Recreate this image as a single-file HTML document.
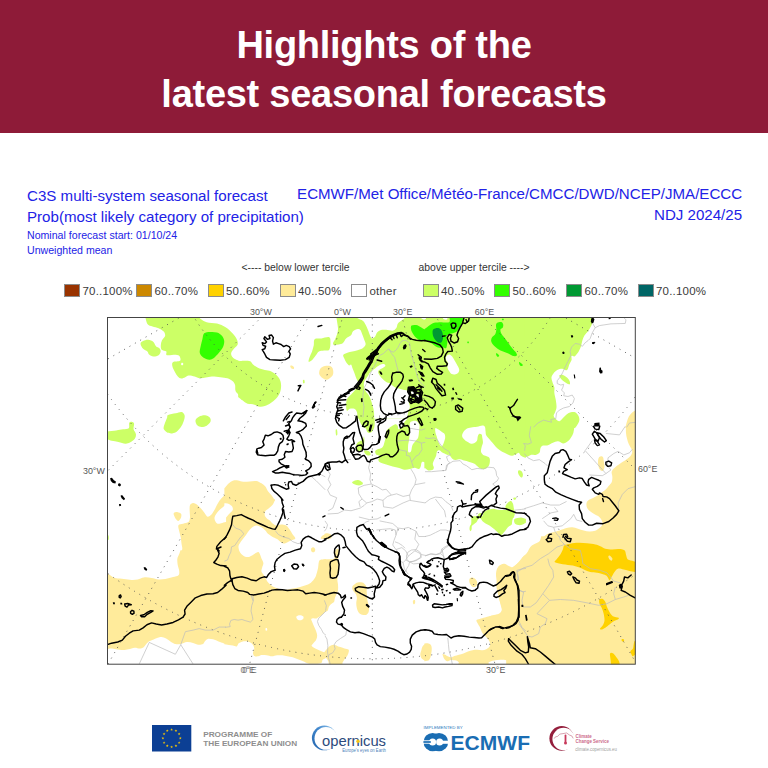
<!DOCTYPE html>
<html><head><meta charset="utf-8">
<style>
html,body{margin:0;padding:0;background:#fff;}
body{width:768px;height:768px;position:relative;overflow:hidden;font-family:"Liberation Sans",sans-serif;}
#hdr{position:absolute;left:0;top:0;width:768px;height:133.3px;background:#8e1b38;}
.ht{position:absolute;left:0;width:768px;text-align:center;color:#fff;font-weight:bold;font-size:38px;letter-spacing:-0.27px;white-space:nowrap;line-height:43px;}
.bl{position:absolute;color:#2222e6;white-space:nowrap;font-size:15.1px;line-height:18px;}
.sm{font-size:10.6px !important;line-height:12px !important;}
.lg{position:absolute;top:283.6px;width:16.2px;height:13.5px;box-sizing:border-box;border:0.8px solid #8c8c8c;margin-left:0.6px;}
.lt{position:absolute;top:284.5px;font-size:11.5px;line-height:13px;color:#3a3a3a;white-space:nowrap;letter-spacing:0.2px;}
.ax{position:absolute;font-size:8.9px;line-height:10px;color:#555;white-space:nowrap;}
svg{position:absolute;left:0;top:0;}
</style></head><body>
<div id="hdr"></div>
<div class="ht" id="h1" style="top:24.3px;">Highlights of the</div>
<div class="ht" id="h2" style="top:73.2px;">latest seasonal forecasts</div>

<div class="bl" id="t1" style="left:27px;top:187.1px;">C3S multi-system seasonal forecast</div>
<div class="bl" id="t2" style="left:27px;top:207.7px;">Prob(most likely category of precipitation)</div>
<div class="bl sm" id="t3" style="left:27px;top:228.8px;">Nominal forecast start: 01/10/24</div>
<div class="bl sm" id="t4" style="left:27px;top:243.5px;">Unweighted mean</div>
<div class="bl" id="t5" style="right:25.9px;top:184.5px;">ECMWF/Met Office/Météo-France/CMCC/DWD/NCEP/JMA/ECCC</div>
<div class="bl" id="t6" style="right:25.9px;top:205.6px;">NDJ 2024/25</div>

<div class="ax" id="l1" style="left:241.5px;top:261.9px;font-size:10.38px;line-height:12px;color:#333;">&lt;---- below lower tercile</div>
<div class="ax" id="l2" style="left:418.6px;top:261.9px;font-size:10.36px;line-height:12px;color:#333;">above upper tercile ----&gt;</div>

<div class="lg" style="left:63.5px;background:#993300;"></div><div class="lt" style="left:82.5px;">70..100%</div>
<div class="lg" style="left:135.5px;background:#cc8800;"></div><div class="lt" style="left:154.5px;">60..70%</div>
<div class="lg" style="left:207px;background:#ffd200;"></div><div class="lt" style="left:226px;">50..60%</div>
<div class="lg" style="left:279px;background:#ffeb99;"></div><div class="lt" style="left:298px;">40..50%</div>
<div class="lg" style="left:350.5px;background:#ffffff;"></div><div class="lt" style="left:369.5px;">other</div>
<div class="lg" style="left:422px;background:#ccff66;"></div><div class="lt" style="left:441px;">40..50%</div>
<div class="lg" style="left:493.5px;background:#33ff00;"></div><div class="lt" style="left:512.5px;">50..60%</div>
<div class="lg" style="left:565.5px;background:#009933;"></div><div class="lt" style="left:584.5px;">60..70%</div>
<div class="lg" style="left:637px;background:#006666;"></div><div class="lt" style="left:656px;">70..100%</div>

<svg id="map" width="768" height="768" viewBox="0 0 768 768">
<defs><clipPath id="cp"><rect x="107.5" y="317.5" width="527.8" height="346.7"/></clipPath></defs>
<g clip-path="url(#cp)" id="mapg">
<path transform="translate(107,433) scale(0.153646)" fill="#ffeb9b" d="M775.0,395.0 C775.0,395.0 754.2,414.2 745.0,425.0 C735.8,435.8 727.5,447.5 720.0,460.0 C712.5,472.5 706.7,488.3 700.0,500.0 C693.3,511.7 687.5,522.5 680.0,530.0 C672.5,537.5 662.5,546.7 655.0,545.0 C647.5,543.3 642.5,529.2 635.0,520.0 C627.5,510.8 618.3,499.2 610.0,490.0 C601.7,480.8 593.3,470.8 585.0,465.0 C576.7,459.2 567.5,454.2 560.0,455.0 C552.5,455.8 543.7,460.8 540.0,470.0 C536.3,479.2 538.0,496.7 538.0,510.0 C538.0,523.3 541.3,538.3 540.0,550.0 C538.7,561.7 537.5,573.3 530.0,580.0 C522.5,586.7 505.8,586.7 495.0,590.0 C484.2,593.3 469.2,591.7 465.0,600.0 C460.8,608.3 467.5,626.7 470.0,640.0 C472.5,653.3 477.5,666.7 480.0,680.0 C482.5,693.3 483.3,708.3 485.0,720.0 C486.7,731.7 490.0,740.8 490.0,750.0 C490.0,759.2 485.0,775.0 485.0,775.0 L775.0,775.0 L775.0,395.0 Z"/>
<path transform="translate(107,433) scale(0.153646)" fill="#ffeb9b" d="M435.0,520.0 C438.7,515.8 452.2,514.2 460.0,515.0 C467.8,515.8 478.3,519.2 482.0,525.0 C485.7,530.8 484.8,542.2 482.0,550.0 C479.2,557.8 470.7,570.3 465.0,572.0 C459.3,573.7 452.5,565.3 448.0,560.0 C443.5,554.7 440.2,546.7 438.0,540.0 C435.8,533.3 431.3,524.2 435.0,520.0 Z"/>
<path transform="translate(107,551) scale(0.153646)" fill="#ffeb9b" d="M-5.0,140.0 C-5.0,140.0 19.2,158.7 30.0,165.0 C40.8,171.3 46.7,175.2 60.0,178.0 C73.3,180.8 93.3,180.3 110.0,182.0 C126.7,183.7 145.0,187.5 160.0,188.0 C175.0,188.5 186.7,187.7 200.0,185.0 C213.3,182.3 225.0,173.7 240.0,172.0 C255.0,170.3 274.2,172.8 290.0,175.0 C305.8,177.2 320.0,183.8 335.0,185.0 C350.0,186.2 364.2,184.5 380.0,182.0 C395.8,179.5 415.8,174.0 430.0,170.0 C444.2,166.0 458.3,164.7 465.0,158.0 C471.7,151.3 470.8,141.3 470.0,130.0 C469.2,118.7 462.0,103.3 460.0,90.0 C458.0,76.7 456.3,61.7 458.0,50.0 C459.7,38.3 466.7,29.2 470.0,20.0 C473.3,10.8 478.0,-5.0 478.0,-5.0 L775.0,-5.0 L775.0,605.0 C775.0,605.0 744.2,595.0 730.0,590.0 C715.8,585.0 702.5,578.0 690.0,575.0 C677.5,572.0 664.2,569.5 655.0,572.0 C645.8,574.5 640.0,584.5 635.0,590.0 C630.0,595.5 631.7,601.7 625.0,605.0 C618.3,608.3 605.8,611.2 595.0,610.0 C584.2,608.8 572.5,601.0 560.0,598.0 C547.5,595.0 533.3,590.8 520.0,592.0 C506.7,593.2 492.5,602.8 480.0,605.0 C467.5,607.2 455.8,607.5 445.0,605.0 C434.2,602.5 425.0,595.8 415.0,590.0 C405.0,584.2 395.0,575.0 385.0,570.0 C375.0,565.0 364.2,560.8 355.0,560.0 C345.8,559.2 340.0,561.7 330.0,565.0 C320.0,568.3 305.8,575.0 295.0,580.0 C284.2,585.0 274.2,587.5 265.0,595.0 C255.8,602.5 248.3,618.3 240.0,625.0 C231.7,631.7 225.0,634.2 215.0,635.0 C205.0,635.8 192.5,629.2 180.0,630.0 C167.5,630.8 152.5,637.5 140.0,640.0 C127.5,642.5 118.3,645.0 105.0,645.0 C91.7,645.0 73.3,641.7 60.0,640.0 C46.7,638.3 35.8,635.0 25.0,635.0 C14.2,635.0 -5.0,640.0 -5.0,640.0 L-5.0,140.0 Z"/>
<path transform="translate(225,585) scale(0.130208)" fill="#ffeb9b" d="M-5.0,100.0 L775.0,100.0 L775.0,195.0 C775.0,195.0 765.8,208.3 760.0,215.0 C754.2,221.7 747.5,229.2 740.0,235.0 C732.5,240.8 721.7,246.2 715.0,250.0 C708.3,253.8 705.8,257.2 700.0,258.0 C694.2,258.8 686.3,254.3 680.0,255.0 C673.7,255.7 663.3,256.2 662.0,262.0 C660.7,267.8 668.2,280.3 672.0,290.0 C675.8,299.7 680.3,309.2 685.0,320.0 C689.7,330.8 696.2,343.3 700.0,355.0 C703.8,366.7 708.0,379.2 708.0,390.0 C708.0,400.8 704.7,410.8 700.0,420.0 C695.3,429.2 685.8,437.5 680.0,445.0 C674.2,452.5 665.0,459.2 665.0,465.0 C665.0,470.8 672.5,475.0 680.0,480.0 C687.5,485.0 699.2,490.0 710.0,495.0 C720.8,500.0 734.2,505.8 745.0,510.0 C755.8,514.2 775.0,520.0 775.0,520.0 L775.0,560.0 C775.0,560.0 755.8,568.3 750.0,575.0 C744.2,581.7 748.3,595.0 740.0,600.0 C731.7,605.0 716.7,604.7 700.0,605.0 C683.3,605.3 656.7,605.3 640.0,602.0 C623.3,598.7 613.3,590.3 600.0,585.0 C586.7,579.7 573.3,575.0 560.0,570.0 C546.7,565.0 533.3,558.7 520.0,555.0 C506.7,551.3 493.3,550.5 480.0,548.0 C466.7,545.5 453.3,541.3 440.0,540.0 C426.7,538.7 413.3,538.7 400.0,540.0 C386.7,541.3 373.3,548.0 360.0,548.0 C346.7,548.0 333.3,541.7 320.0,540.0 C306.7,538.3 290.8,536.7 280.0,538.0 C269.2,539.3 264.2,546.8 255.0,548.0 C245.8,549.2 231.7,549.7 225.0,545.0 C218.3,540.3 215.0,529.2 215.0,520.0 C215.0,510.8 225.0,500.0 225.0,490.0 C225.0,480.0 220.0,468.0 215.0,460.0 C210.0,452.0 203.3,446.7 195.0,442.0 C186.7,437.3 175.8,433.2 165.0,432.0 C154.2,430.8 140.0,432.3 130.0,435.0 C120.0,437.7 111.7,441.8 105.0,448.0 C98.3,454.2 97.5,469.2 90.0,472.0 C82.5,474.8 70.0,467.0 60.0,465.0 C50.0,463.0 40.8,461.7 30.0,460.0 C19.2,458.3 -5.0,455.0 -5.0,455.0 L-5.0,100.0 Z"/>
<path transform="translate(325,600) scale(0.130208)" fill="#ffeb9b" d="M-5.0,400.0 C-5.0,400.0 11.7,378.3 20.0,370.0 C28.3,361.7 35.8,354.2 45.0,350.0 C54.2,345.8 64.2,343.3 75.0,345.0 C85.8,346.7 97.5,355.5 110.0,360.0 C122.5,364.5 138.3,368.7 150.0,372.0 C161.7,375.3 174.7,375.3 180.0,380.0 C185.3,384.7 183.7,391.7 182.0,400.0 C180.3,408.3 175.3,420.8 170.0,430.0 C164.7,439.2 155.8,446.7 150.0,455.0 C144.2,463.3 139.2,472.5 135.0,480.0 C130.8,487.5 140.8,496.7 125.0,500.0 C109.2,503.3 56.7,505.0 40.0,500.0 C23.3,495.0 30.8,480.0 25.0,470.0 C19.2,460.0 10.0,446.7 5.0,440.0 C0.0,433.3 -5.0,430.0 -5.0,430.0 L-5.0,400.0 Z"/>
<path transform="translate(325,600) scale(0.130208)" fill="#ffeb9b" d="M775.0,335.0 C775.0,335.0 755.8,346.7 750.0,355.0 C744.2,363.3 743.0,375.0 740.0,385.0 C737.0,395.0 732.0,405.0 732.0,415.0 C732.0,425.0 735.3,437.5 740.0,445.0 C744.7,452.5 754.2,457.2 760.0,460.0 C765.8,462.8 775.0,462.0 775.0,462.0 L775.0,335.0 Z"/>
<path transform="translate(425,600) scale(0.130208)" fill="#ffeb9b" d="M570.0,-5.0 C570.0,-5.0 587.5,44.2 590.0,60.0 C592.5,75.8 590.0,81.7 585.0,90.0 C580.0,98.3 569.2,105.0 560.0,110.0 C550.8,115.0 540.8,117.5 530.0,120.0 C519.2,122.5 506.7,122.5 495.0,125.0 C483.3,127.5 472.5,131.7 460.0,135.0 C447.5,138.3 430.8,141.7 420.0,145.0 C409.2,148.3 397.5,149.2 395.0,155.0 C392.5,160.8 400.8,171.7 405.0,180.0 C409.2,188.3 415.8,196.7 420.0,205.0 C424.2,213.3 425.8,220.8 430.0,230.0 C434.2,239.2 438.3,250.8 445.0,260.0 C451.7,269.2 462.5,276.7 470.0,285.0 C477.5,293.3 485.0,301.7 490.0,310.0 C495.0,318.3 499.2,326.7 500.0,335.0 C500.8,343.3 500.0,352.8 495.0,360.0 C490.0,367.2 479.2,373.8 470.0,378.0 C460.8,382.2 451.7,384.3 440.0,385.0 C428.3,385.7 412.5,382.0 400.0,382.0 C387.5,382.0 376.7,382.8 365.0,385.0 C353.3,387.2 341.7,390.8 330.0,395.0 C318.3,399.2 306.7,405.8 295.0,410.0 C283.3,414.2 271.7,416.7 260.0,420.0 C248.3,423.3 235.0,426.7 225.0,430.0 C215.0,433.3 208.3,439.7 200.0,440.0 C191.7,440.3 183.3,435.7 175.0,432.0 C166.7,428.3 156.7,420.8 150.0,418.0 C143.3,415.2 136.7,412.2 135.0,415.0 C133.3,417.8 137.5,428.3 140.0,435.0 C142.5,441.7 145.0,449.2 150.0,455.0 C155.0,460.8 162.5,468.8 170.0,470.0 C177.5,471.2 187.5,463.3 195.0,462.0 C202.5,460.7 207.5,461.5 215.0,462.0 C222.5,462.5 232.5,462.0 240.0,465.0 C247.5,468.0 255.3,473.3 260.0,480.0 C264.7,486.7 233.0,500.8 268.0,505.0 C303.0,509.2 433.0,509.5 470.0,505.0 C507.0,500.5 480.0,484.8 490.0,478.0 C500.0,471.2 515.0,467.3 530.0,464.0 C545.0,460.7 564.2,458.3 580.0,458.0 C595.8,457.7 613.7,459.2 625.0,462.0 C636.3,464.8 642.5,467.8 648.0,475.0 C653.5,482.2 636.8,500.0 658.0,505.0 C679.2,510.0 775.0,505.0 775.0,505.0 L775.0,-5.0 L570.0,-5.0 Z"/>
<path transform="translate(425,600) scale(0.130208)" fill="#ffeb9b" d="M-5.0,335.0 C-5.0,335.0 11.7,330.3 20.0,332.0 C28.3,333.7 39.7,337.8 45.0,345.0 C50.3,352.2 51.5,364.2 52.0,375.0 C52.5,385.8 50.0,398.3 48.0,410.0 C46.0,421.7 43.8,435.8 40.0,445.0 C36.2,454.2 32.5,460.8 25.0,465.0 C17.5,469.2 -5.0,470.0 -5.0,470.0 L-5.0,335.0 Z"/>
<path transform="translate(225,500) scale(0.130208)" fill="#ffeb9b" d="M-5.0,-5.0 L385.0,-5.0 C385.0,-5.0 378.3,18.3 370.0,30.0 C361.7,41.7 345.0,55.8 335.0,65.0 C325.0,74.2 315.0,76.7 310.0,85.0 C305.0,93.3 303.3,105.8 305.0,115.0 C306.7,124.2 313.3,132.8 320.0,140.0 C326.7,147.2 337.5,151.3 345.0,158.0 C352.5,164.7 356.7,173.8 365.0,180.0 C373.3,186.2 384.2,193.7 395.0,195.0 C405.8,196.3 417.5,188.0 430.0,188.0 C442.5,188.0 459.2,188.8 470.0,195.0 C480.8,201.2 486.7,213.3 495.0,225.0 C503.3,236.7 512.5,253.3 520.0,265.0 C527.5,276.7 541.7,287.5 540.0,295.0 C538.3,302.5 520.0,305.0 510.0,310.0 C500.0,315.0 489.2,320.8 480.0,325.0 C470.8,329.2 463.3,335.0 455.0,335.0 C446.7,335.0 439.2,330.8 430.0,325.0 C420.8,319.2 411.7,307.5 400.0,300.0 C388.3,292.5 371.7,286.7 360.0,280.0 C348.3,273.3 338.3,267.5 330.0,260.0 C321.7,252.5 318.3,243.3 310.0,235.0 C301.7,226.7 290.8,216.7 280.0,210.0 C269.2,203.3 255.8,195.8 245.0,195.0 C234.2,194.2 225.0,198.3 215.0,205.0 C205.0,211.7 194.2,224.2 185.0,235.0 C175.8,245.8 169.2,257.5 160.0,270.0 C150.8,282.5 139.2,296.7 130.0,310.0 C120.8,323.3 108.7,337.5 105.0,350.0 C101.3,362.5 104.7,374.2 108.0,385.0 C111.3,395.8 117.2,406.7 125.0,415.0 C132.8,423.3 144.2,431.7 155.0,435.0 C165.8,438.3 178.3,438.3 190.0,435.0 C201.7,431.7 214.2,420.8 225.0,415.0 C235.8,409.2 247.5,399.2 255.0,400.0 C262.5,400.8 265.8,411.7 270.0,420.0 C274.2,428.3 275.8,439.2 280.0,450.0 C284.2,460.8 294.2,473.3 295.0,485.0 C295.8,496.7 287.5,509.2 285.0,520.0 C282.5,530.8 277.5,540.0 280.0,550.0 C282.5,560.0 295.0,571.7 300.0,580.0 C305.0,588.3 305.8,592.5 310.0,600.0 C314.2,607.5 318.3,616.7 325.0,625.0 C331.7,633.3 340.8,642.5 350.0,650.0 C359.2,657.5 368.3,664.2 380.0,670.0 C391.7,675.8 405.0,681.7 420.0,685.0 C435.0,688.3 453.3,690.8 470.0,690.0 C486.7,689.2 503.3,683.3 520.0,680.0 C536.7,676.7 553.3,674.2 570.0,670.0 C586.7,665.8 605.0,660.8 620.0,655.0 C635.0,649.2 648.3,644.2 660.0,635.0 C671.7,625.8 682.5,612.5 690.0,600.0 C697.5,587.5 700.8,573.3 705.0,560.0 C709.2,546.7 712.5,533.3 715.0,520.0 C717.5,506.7 717.5,490.0 720.0,480.0 C722.5,470.0 720.8,464.2 730.0,460.0 C739.2,455.8 775.0,455.0 775.0,455.0 L775.0,775.0 L-5.0,775.0 L-5.0,-5.0 Z"/>
<path transform="translate(225,500) scale(0.130208)" fill="#ffeb9b" d="M662.0,372.0 C664.7,367.3 673.0,361.5 678.0,362.0 C683.0,362.5 690.0,369.5 692.0,375.0 C694.0,380.5 693.3,390.5 690.0,395.0 C686.7,399.5 676.7,402.8 672.0,402.0 C667.3,401.2 663.7,395.0 662.0,390.0 C660.3,385.0 659.3,376.7 662.0,372.0 Z"/>
<path transform="translate(225,500) scale(0.130208)" fill="#ffeb9b" d="M735.0,290.0 C735.8,285.3 743.3,276.2 750.0,272.0 C756.7,267.8 775.0,265.0 775.0,265.0 L775.0,295.0 C775.0,295.0 751.7,300.8 745.0,300.0 C738.3,299.2 734.2,294.7 735.0,290.0 Z"/>
<path transform="translate(325,517) scale(0.130208)" fill="#ffeb9b" d="M-5.0,130.0 C-5.0,130.0 11.7,124.2 20.0,125.0 C28.3,125.8 40.0,129.2 45.0,135.0 C50.0,140.8 52.5,154.2 50.0,160.0 C47.5,165.8 39.2,168.3 30.0,170.0 C20.8,171.7 -5.0,170.0 -5.0,170.0 L-5.0,130.0 Z"/>
<path transform="translate(325,517) scale(0.130208)" fill="#ffeb9b" d="M-5.0,325.0 C-5.0,325.0 27.5,325.8 40.0,325.0 C52.5,324.2 64.2,325.0 70.0,320.0 C75.8,315.0 73.3,305.0 75.0,295.0 C76.7,285.0 77.5,268.3 80.0,260.0 C82.5,251.7 85.8,246.7 90.0,245.0 C94.2,243.3 102.5,242.5 105.0,250.0 C107.5,257.5 105.8,276.7 105.0,290.0 C104.2,303.3 100.0,315.0 100.0,330.0 C100.0,345.0 105.0,363.3 105.0,380.0 C105.0,396.7 101.7,413.3 100.0,430.0 C98.3,446.7 95.0,465.0 95.0,480.0 C95.0,495.0 99.2,506.7 100.0,520.0 C100.8,533.3 101.7,548.3 100.0,560.0 C98.3,571.7 94.2,579.2 90.0,590.0 C85.8,600.8 78.3,615.0 75.0,625.0 C71.7,635.0 75.0,642.5 70.0,650.0 C65.0,657.5 51.7,663.3 45.0,670.0 C38.3,676.7 34.2,681.7 30.0,690.0 C25.8,698.3 25.8,713.3 20.0,720.0 C14.2,726.7 -5.0,730.0 -5.0,730.0 L-5.0,325.0 Z"/>
<path transform="translate(325,517) scale(0.130208)" fill="#ffeb9b" d="M210.0,535.0 C213.3,525.8 225.0,515.5 235.0,510.0 C245.0,504.5 259.2,502.0 270.0,502.0 C280.8,502.0 292.0,504.5 300.0,510.0 C308.0,515.5 314.7,525.0 318.0,535.0 C321.3,545.0 319.3,557.5 320.0,570.0 C320.7,582.5 320.7,596.7 322.0,610.0 C323.3,623.3 325.3,636.7 328.0,650.0 C330.7,663.3 336.8,676.7 338.0,690.0 C339.2,703.3 338.8,719.7 335.0,730.0 C331.2,740.3 323.3,748.7 315.0,752.0 C306.7,755.3 294.2,752.8 285.0,750.0 C275.8,747.2 266.7,743.3 260.0,735.0 C253.3,726.7 248.3,712.5 245.0,700.0 C241.7,687.5 240.0,673.3 240.0,660.0 C240.0,646.7 245.8,631.7 245.0,620.0 C244.2,608.3 240.0,599.2 235.0,590.0 C230.0,580.8 219.2,574.2 215.0,565.0 C210.8,555.8 206.7,544.2 210.0,535.0 Z"/>
<path transform="translate(325,517) scale(0.130208)" fill="#ffeb9b" d="M675.0,645.0 C676.7,639.7 687.2,635.5 690.0,638.0 C692.8,640.5 693.7,654.7 692.0,660.0 C690.3,665.3 682.8,672.5 680.0,670.0 C677.2,667.5 673.3,650.3 675.0,645.0 Z"/>
<path transform="translate(425,517) scale(0.130208)" fill="#ffeb9b" d="M775.0,290.0 C775.0,290.0 757.5,301.7 750.0,310.0 C742.5,318.3 738.3,330.8 730.0,340.0 C721.7,349.2 710.0,357.5 700.0,365.0 C690.0,372.5 680.0,383.3 670.0,385.0 C660.0,386.7 650.0,379.2 640.0,375.0 C630.0,370.8 619.2,361.7 610.0,360.0 C600.8,358.3 593.3,360.8 585.0,365.0 C576.7,369.2 566.2,376.7 560.0,385.0 C553.8,393.3 550.5,404.2 548.0,415.0 C545.5,425.8 544.7,437.5 545.0,450.0 C545.3,462.5 549.5,476.7 550.0,490.0 C550.5,503.3 547.2,516.7 548.0,530.0 C548.8,543.3 552.2,556.7 555.0,570.0 C557.8,583.3 561.7,596.7 565.0,610.0 C568.3,623.3 571.7,636.7 575.0,650.0 C578.3,663.3 582.5,678.3 585.0,690.0 C587.5,701.7 592.5,710.8 590.0,720.0 C587.5,729.2 580.0,739.7 570.0,745.0 C560.0,750.3 541.7,749.5 530.0,752.0 C518.3,754.5 508.3,756.2 500.0,760.0 C491.7,763.8 480.0,775.0 480.0,775.0 L775.0,775.0 L775.0,290.0 Z"/>
<path transform="translate(425,517) scale(0.130208)" fill="#ffeb9b" d="M345.0,470.0 C349.2,465.0 357.5,463.3 365.0,465.0 C372.5,466.7 383.8,473.3 390.0,480.0 C396.2,486.7 401.2,496.7 402.0,505.0 C402.8,513.3 400.3,524.5 395.0,530.0 C389.7,535.5 377.5,539.7 370.0,538.0 C362.5,536.3 355.0,527.2 350.0,520.0 C345.0,512.8 340.8,503.3 340.0,495.0 C339.2,486.7 340.8,475.0 345.0,470.0 Z"/>
<path transform="translate(525,317) scale(0.143229)" fill="#ffeb9b" d="M775.0,650.0 C775.0,650.0 753.3,662.5 745.0,670.0 C736.7,677.5 730.5,685.0 725.0,695.0 C719.5,705.0 716.2,716.7 712.0,730.0 C707.8,743.3 700.0,775.0 700.0,775.0 L775.0,775.0 L775.0,650.0 Z"/>
<path transform="translate(525,427) scale(0.143229)" fill="#ffeb9b" d="M705.0,-5.0 L775.0,-5.0 L775.0,775.0 L125.0,775.0 C125.0,775.0 138.3,756.7 150.0,750.0 C161.7,743.3 180.0,739.7 195.0,735.0 C210.0,730.3 224.2,727.0 240.0,722.0 C255.8,717.0 275.0,708.7 290.0,705.0 C305.0,701.3 316.7,699.2 330.0,700.0 C343.3,700.8 356.7,706.3 370.0,710.0 C383.3,713.7 396.7,718.7 410.0,722.0 C423.3,725.3 436.7,729.5 450.0,730.0 C463.3,730.5 478.3,729.2 490.0,725.0 C501.7,720.8 511.7,712.5 520.0,705.0 C528.3,697.5 537.5,689.2 540.0,680.0 C542.5,670.8 539.2,659.2 535.0,650.0 C530.8,640.8 524.2,632.5 515.0,625.0 C505.8,617.5 490.8,611.7 480.0,605.0 C469.2,598.3 458.0,592.5 450.0,585.0 C442.0,577.5 435.3,569.2 432.0,560.0 C428.7,550.8 427.8,538.3 430.0,530.0 C432.2,521.7 437.5,515.8 445.0,510.0 C452.5,504.2 465.0,500.0 475.0,495.0 C485.0,490.0 495.8,485.8 505.0,480.0 C514.2,474.2 520.8,466.7 530.0,460.0 C539.2,453.3 550.8,448.3 560.0,440.0 C569.2,431.7 577.5,419.2 585.0,410.0 C592.5,400.8 600.8,395.0 605.0,385.0 C609.2,375.0 610.0,361.7 610.0,350.0 C610.0,338.3 603.3,325.0 605.0,315.0 C606.7,305.0 612.5,298.3 620.0,290.0 C627.5,281.7 640.0,272.5 650.0,265.0 C660.0,257.5 670.0,251.7 680.0,245.0 C690.0,238.3 700.8,231.7 710.0,225.0 C719.2,218.3 728.7,212.5 735.0,205.0 C741.3,197.5 746.3,188.3 748.0,180.0 C749.7,171.7 748.8,165.0 745.0,155.0 C741.2,145.0 730.5,132.5 725.0,120.0 C719.5,107.5 715.3,93.3 712.0,80.0 C708.7,66.7 706.2,54.2 705.0,40.0 C703.8,25.8 705.0,-5.0 705.0,-5.0 Z"/>
<path transform="translate(525,427) scale(0.143229)" fill="#ffeb9b" d="M515.0,215.0 C518.3,209.2 525.0,205.5 530.0,205.0 C535.0,204.5 541.7,206.2 545.0,212.0 C548.3,217.8 548.3,229.5 550.0,240.0 C551.7,250.5 555.8,264.2 555.0,275.0 C554.2,285.8 550.0,300.8 545.0,305.0 C540.0,309.2 530.5,305.8 525.0,300.0 C519.5,294.2 514.5,280.0 512.0,270.0 C509.5,260.0 509.5,249.2 510.0,240.0 C510.5,230.8 511.7,220.8 515.0,215.0 Z"/>
<path transform="translate(507,537) scale(0.166667)" fill="#ffeb9b" d="M205.0,-5.0 L775.0,-5.0 L775.0,775.0 L-5.0,775.0 L-5.0,175.0 C-5.0,175.0 16.7,190.0 25.0,190.0 C33.3,190.0 37.5,181.7 45.0,175.0 C52.5,168.3 61.7,159.2 70.0,150.0 C78.3,140.8 86.7,129.2 95.0,120.0 C103.3,110.8 112.5,105.0 120.0,95.0 C127.5,85.0 133.3,68.3 140.0,60.0 C146.7,51.7 150.8,50.8 160.0,45.0 C169.2,39.2 187.5,33.3 195.0,25.0 C202.5,16.7 205.0,-5.0 205.0,-5.0 Z"/>
<path transform="translate(239,317) scale(0.171875)" fill="#ffeb9b" d="M298.0,285.0 C298.8,282.2 306.3,281.8 310.0,283.0 C313.7,284.2 318.7,288.8 320.0,292.0 C321.3,295.2 320.5,300.7 318.0,302.0 C315.5,303.3 308.3,302.8 305.0,300.0 C301.7,297.2 297.2,287.8 298.0,285.0 Z"/>
<path transform="translate(239,317) scale(0.171875)" fill="#ffeb9b" d="M478.0,295.0 C483.3,290.5 491.3,286.7 500.0,285.0 C508.7,283.3 522.5,282.5 530.0,285.0 C537.5,287.5 542.0,292.5 545.0,300.0 C548.0,307.5 549.7,321.7 548.0,330.0 C546.3,338.3 541.3,344.2 535.0,350.0 C528.7,355.8 518.3,364.2 510.0,365.0 C501.7,365.8 492.0,360.0 485.0,355.0 C478.0,350.0 470.8,342.2 468.0,335.0 C465.2,327.8 466.3,318.7 468.0,312.0 C469.7,305.3 472.7,299.5 478.0,295.0 Z"/>
<path transform="translate(225,400) scale(0.130208)" fill="#ffeb9b" d="M-5.0,680.0 C-5.0,680.0 19.2,650.0 30.0,640.0 C40.8,630.0 48.3,623.7 60.0,620.0 C71.7,616.3 86.7,616.7 100.0,618.0 C113.3,619.3 125.0,626.8 140.0,628.0 C155.0,629.2 173.3,626.0 190.0,625.0 C206.7,624.0 225.0,619.5 240.0,622.0 C255.0,624.5 268.3,632.8 280.0,640.0 C291.7,647.2 301.7,655.0 310.0,665.0 C318.3,675.0 321.7,688.3 330.0,700.0 C338.3,711.7 350.8,722.5 360.0,735.0 C369.2,747.5 385.0,775.0 385.0,775.0 L-5.0,775.0 L-5.0,680.0 Z"/>
<path transform="translate(107,433) scale(0.153646)" fill="#ccff66" d="M-5.0,665.0 C-5.0,665.0 7.5,663.0 10.0,668.0 C12.5,673.0 12.5,690.5 10.0,695.0 C7.5,699.5 -5.0,695.0 -5.0,695.0 L-5.0,665.0 Z"/>
<path transform="translate(107,317) scale(0.229167)" fill="#ccff66" d="M-5.0,500.0 C-5.0,500.0 27.5,496.7 40.0,495.0 C52.5,493.3 60.8,491.7 70.0,490.0 C79.2,488.3 90.5,489.7 95.0,485.0 C99.5,480.3 94.8,466.7 97.0,462.0 C99.2,457.3 104.5,456.5 108.0,457.0 C111.5,457.5 116.7,459.5 118.0,465.0 C119.3,470.5 114.7,482.5 116.0,490.0 C117.3,497.5 125.0,503.3 126.0,510.0 C127.0,516.7 126.3,523.7 122.0,530.0 C117.7,536.3 107.0,544.2 100.0,548.0 C93.0,551.8 88.3,553.5 80.0,553.0 C71.7,552.5 60.0,547.2 50.0,545.0 C40.0,542.8 29.2,542.5 20.0,540.0 C10.8,537.5 -5.0,530.0 -5.0,530.0 L-5.0,500.0 Z"/>
<path transform="translate(425,517) scale(0.130208)" fill="#ccff66" d="M355.0,-5.0 L680.0,-5.0 C680.0,-5.0 672.5,19.2 670.0,30.0 C667.5,40.8 670.0,52.5 665.0,60.0 C660.0,67.5 646.7,69.2 640.0,75.0 C633.3,80.8 630.8,87.5 625.0,95.0 C619.2,102.5 611.7,112.5 605.0,120.0 C598.3,127.5 591.7,139.2 585.0,140.0 C578.3,140.8 571.7,130.8 565.0,125.0 C558.3,119.2 552.5,111.7 545.0,105.0 C537.5,98.3 528.3,91.7 520.0,85.0 C511.7,78.3 504.2,70.8 495.0,65.0 C485.8,59.2 474.2,55.8 465.0,50.0 C455.8,44.2 446.7,36.7 440.0,30.0 C433.3,23.3 430.0,12.5 425.0,10.0 C420.0,7.5 415.0,10.0 410.0,15.0 C405.0,20.0 400.8,33.3 395.0,40.0 C389.2,46.7 380.8,50.0 375.0,55.0 C369.2,60.0 362.8,63.3 360.0,70.0 C357.2,76.7 359.7,88.3 358.0,95.0 C356.3,101.7 352.7,110.0 350.0,110.0 C347.3,110.0 342.8,101.7 342.0,95.0 C341.2,88.3 342.8,77.5 345.0,70.0 C347.2,62.5 353.3,62.5 355.0,50.0 C356.7,37.5 355.0,-5.0 355.0,-5.0 Z"/>
<path transform="translate(425,517) scale(0.130208)" fill="#ccff66" d="M685.0,20.0 C688.3,13.0 700.0,10.5 710.0,8.0 C720.0,5.5 734.2,3.8 745.0,5.0 C755.8,6.2 775.0,15.0 775.0,15.0 L775.0,45.0 C775.0,45.0 755.0,57.2 745.0,60.0 C735.0,62.8 724.2,63.7 715.0,62.0 C705.8,60.3 695.0,57.0 690.0,50.0 C685.0,43.0 681.7,27.0 685.0,20.0 Z"/>
<path transform="translate(325,317) scale(0.130208)" fill="#ccff66" d="M85.0,-10.0 L250.0,-10.0 C250.0,-10.0 243.0,3.3 250.0,10.0 C257.0,16.7 281.7,21.7 292.0,30.0 C302.3,38.3 305.7,48.3 312.0,60.0 C318.3,71.7 324.5,86.7 330.0,100.0 C335.5,113.3 340.0,129.2 345.0,140.0 C350.0,150.8 353.3,163.3 360.0,165.0 C366.7,166.7 378.3,157.5 385.0,150.0 C391.7,142.5 392.5,128.3 400.0,120.0 C407.5,111.7 418.3,103.7 430.0,100.0 C441.7,96.3 455.0,97.2 470.0,98.0 C485.0,98.8 507.0,107.2 520.0,105.0 C533.0,102.8 541.3,94.2 548.0,85.0 C554.7,75.8 553.0,60.0 560.0,50.0 C567.0,40.0 581.7,31.7 590.0,25.0 C598.3,18.3 606.7,15.8 610.0,10.0 C613.3,4.2 610.0,-10.0 610.0,-10.0 L780.0,-10.0 L780.0,780.0 L250.0,780.0 C250.0,780.0 249.2,742.5 245.0,730.0 C240.8,717.5 234.2,709.2 225.0,705.0 C215.8,700.8 199.5,702.5 190.0,705.0 C180.5,707.5 172.7,725.8 168.0,720.0 C163.3,714.2 161.7,685.0 162.0,670.0 C162.3,655.0 165.3,640.8 170.0,630.0 C174.7,619.2 182.5,613.3 190.0,605.0 C197.5,596.7 206.7,590.0 215.0,580.0 C223.3,570.0 233.3,557.5 240.0,545.0 C246.7,532.5 254.7,516.7 255.0,505.0 C255.3,493.3 246.5,486.7 242.0,475.0 C237.5,463.3 233.0,448.3 228.0,435.0 C223.0,421.7 216.7,406.7 212.0,395.0 C207.3,383.3 204.5,368.8 200.0,365.0 C195.5,361.2 190.8,374.2 185.0,372.0 C179.2,369.8 170.8,360.3 165.0,352.0 C159.2,343.7 154.2,332.0 150.0,322.0 C145.8,312.0 136.3,299.8 140.0,292.0 C143.7,284.2 160.3,279.5 172.0,275.0 C183.7,270.5 197.0,268.3 210.0,265.0 C223.0,261.7 236.3,259.5 250.0,255.0 C263.7,250.5 281.7,245.5 292.0,238.0 C302.3,230.5 310.7,221.3 312.0,210.0 C313.3,198.7 304.5,183.3 300.0,170.0 C295.5,156.7 289.7,141.7 285.0,130.0 C280.3,118.3 277.5,106.3 272.0,100.0 C266.5,93.7 261.5,90.3 252.0,92.0 C242.5,93.7 223.7,102.0 215.0,110.0 C206.3,118.0 208.8,130.8 200.0,140.0 C191.2,149.2 172.3,155.0 162.0,165.0 C151.7,175.0 147.5,192.2 138.0,200.0 C128.5,207.8 116.3,209.5 105.0,212.0 C93.7,214.5 77.2,217.0 70.0,215.0 C62.8,213.0 60.7,207.5 62.0,200.0 C63.3,192.5 73.0,180.8 78.0,170.0 C83.0,159.2 88.3,147.5 92.0,135.0 C95.7,122.5 99.5,109.2 100.0,95.0 C100.5,80.8 97.5,67.5 95.0,50.0 C92.5,32.5 85.0,-10.0 85.0,-10.0 Z"/>
<path transform="translate(325,417) scale(0.130208)" fill="#ccff66" d="M255.0,-10.0 L380.0,-10.0 C380.0,-10.0 382.3,25.0 382.0,40.0 C381.7,55.0 380.8,68.7 378.0,80.0 C375.2,91.3 370.5,101.0 365.0,108.0 C359.5,115.0 351.7,120.8 345.0,122.0 C338.3,123.2 330.0,120.3 325.0,115.0 C320.0,109.7 319.2,95.8 315.0,90.0 C310.8,84.2 305.0,83.7 300.0,80.0 C295.0,76.3 290.0,74.7 285.0,68.0 C280.0,61.3 274.2,48.8 270.0,40.0 C265.8,31.2 262.5,23.3 260.0,15.0 C257.5,6.7 255.0,-10.0 255.0,-10.0 Z"/>
<path transform="translate(325,417) scale(0.130208)" fill="#ccff66" d="M300.0,150.0 C298.0,147.5 295.0,169.2 290.0,175.0 C285.0,180.8 277.0,180.8 270.0,185.0 C263.0,189.2 253.3,193.3 248.0,200.0 C242.7,206.7 238.5,215.8 238.0,225.0 C237.5,234.2 240.5,248.8 245.0,255.0 C249.5,261.2 258.3,262.8 265.0,262.0 C271.7,261.2 280.0,256.2 285.0,250.0 C290.0,243.8 292.2,235.0 295.0,225.0 C297.8,215.0 301.2,202.5 302.0,190.0 C302.8,177.5 302.0,152.5 300.0,150.0 Z"/>
<path transform="translate(325,417) scale(0.130208)" fill="#ccff66" d="M475.0,100.0 C480.3,92.2 489.2,85.5 500.0,78.0 C510.8,70.5 530.3,56.7 540.0,55.0 C549.7,53.3 553.8,61.3 558.0,68.0 C562.2,74.7 559.7,93.8 565.0,95.0 C570.3,96.2 582.5,84.2 590.0,75.0 C597.5,65.8 601.7,50.8 610.0,40.0 C618.3,29.2 631.7,18.3 640.0,10.0 C648.3,1.7 660.0,-10.0 660.0,-10.0 L780.0,-10.0 L780.0,355.0 C780.0,355.0 752.5,340.8 745.0,345.0 C737.5,349.2 739.2,370.8 735.0,380.0 C730.8,389.2 727.5,398.3 720.0,400.0 C712.5,401.7 701.7,390.0 690.0,390.0 C678.3,390.0 663.3,397.5 650.0,400.0 C636.7,402.5 623.3,406.3 610.0,405.0 C596.7,403.7 585.0,396.2 570.0,392.0 C555.0,387.8 536.7,384.5 520.0,380.0 C503.3,375.5 485.8,370.0 470.0,365.0 C454.2,360.0 435.0,355.8 425.0,350.0 C415.0,344.2 410.8,338.3 410.0,330.0 C409.2,321.7 422.5,306.7 420.0,300.0 C417.5,293.3 400.8,295.8 395.0,290.0 C389.2,284.2 384.2,271.7 385.0,265.0 C385.8,258.3 390.8,255.0 400.0,250.0 C409.2,245.0 430.8,243.3 440.0,235.0 C449.2,226.7 450.8,212.5 455.0,200.0 C459.2,187.5 462.8,172.5 465.0,160.0 C467.2,147.5 466.3,135.0 468.0,125.0 C469.7,115.0 469.7,107.8 475.0,100.0 Z"/>
<path transform="translate(325,417) scale(0.130208)" fill="#ccff66" d="M300.0,262.0 C301.7,257.5 312.5,256.7 320.0,258.0 C327.5,259.3 340.0,264.7 345.0,270.0 C350.0,275.3 352.5,285.8 350.0,290.0 C347.5,294.2 336.7,295.8 330.0,295.0 C323.3,294.2 315.0,290.5 310.0,285.0 C305.0,279.5 298.3,266.5 300.0,262.0 Z"/>
<path transform="translate(325,417) scale(0.130208)" fill="#ccff66" d="M82.0,100.0 C83.2,93.0 89.8,92.2 92.0,98.0 C94.2,103.8 96.2,128.0 95.0,135.0 C93.8,142.0 87.2,145.8 85.0,140.0 C82.8,134.2 80.8,107.0 82.0,100.0 Z"/>
<path transform="translate(325,417) scale(0.130208)" fill="#ccff66" d="M208.0,505.0 C206.3,499.3 221.3,491.3 230.0,488.0 C238.7,484.7 250.8,483.0 260.0,485.0 C269.2,487.0 280.0,495.0 285.0,500.0 C290.0,505.0 292.5,510.8 290.0,515.0 C287.5,519.2 278.3,523.8 270.0,525.0 C261.7,526.2 250.3,525.3 240.0,522.0 C229.7,518.7 209.7,510.7 208.0,505.0 Z"/>
<path transform="translate(425,317) scale(0.130208)" fill="#ccff66" d="M-5.0,-5.0 L775.0,-5.0 L775.0,775.0 L-5.0,775.0 L-5.0,-5.0 Z"/>
<path transform="translate(525,317) scale(0.143229)" fill="#ccff66" d="M-5.0,-5.0 L470.0,-5.0 C470.0,-5.0 472.5,26.7 470.0,40.0 C467.5,53.3 460.0,65.0 455.0,75.0 C450.0,85.0 446.7,90.8 440.0,100.0 C433.3,109.2 421.7,119.2 415.0,130.0 C408.3,140.8 403.8,153.3 400.0,165.0 C396.2,176.7 395.3,189.2 392.0,200.0 C388.7,210.8 384.5,220.8 380.0,230.0 C375.5,239.2 370.8,247.5 365.0,255.0 C359.2,262.5 351.7,272.2 345.0,275.0 C338.3,277.8 328.3,267.8 325.0,272.0 C321.7,276.2 327.5,290.3 325.0,300.0 C322.5,309.7 314.5,319.2 310.0,330.0 C305.5,340.8 302.2,358.0 298.0,365.0 C293.8,372.0 291.3,372.5 285.0,372.0 C278.7,371.5 270.0,362.3 260.0,362.0 C250.0,361.7 235.0,365.0 225.0,370.0 C215.0,375.0 206.7,383.7 200.0,392.0 C193.3,400.3 186.3,409.5 185.0,420.0 C183.7,430.5 188.7,443.3 192.0,455.0 C195.3,466.7 202.8,477.5 205.0,490.0 C207.2,502.5 203.3,515.0 205.0,530.0 C206.7,545.0 212.5,563.3 215.0,580.0 C217.5,596.7 220.8,615.8 220.0,630.0 C219.2,644.2 213.3,655.0 210.0,665.0 C206.7,675.0 199.2,682.2 200.0,690.0 C200.8,697.8 208.3,705.7 215.0,712.0 C221.7,718.3 231.7,729.2 240.0,728.0 C248.3,726.8 256.7,713.0 265.0,705.0 C273.3,697.0 280.8,686.7 290.0,680.0 C299.2,673.3 310.0,667.5 320.0,665.0 C330.0,662.5 341.7,661.7 350.0,665.0 C358.3,668.3 365.0,676.7 370.0,685.0 C375.0,693.3 380.0,705.0 380.0,715.0 C380.0,725.0 375.0,735.0 370.0,745.0 C365.0,755.0 350.0,775.0 350.0,775.0 L-5.0,775.0 L-5.0,-5.0 Z"/>
<path transform="translate(525,317) scale(0.143229)" fill="#ccff66" d="M240.0,408.0 C242.8,404.2 255.8,402.2 265.0,405.0 C274.2,407.8 287.2,417.8 295.0,425.0 C302.8,432.2 309.2,440.5 312.0,448.0 C314.8,455.5 315.7,467.7 312.0,470.0 C308.3,472.3 297.8,466.2 290.0,462.0 C282.2,457.8 272.0,450.7 265.0,445.0 C258.0,439.3 252.2,434.2 248.0,428.0 C243.8,421.8 237.2,411.8 240.0,408.0 Z"/>
<path transform="translate(425,417) scale(0.130208)" fill="#ccff66" d="M-5.0,-5.0 L775.0,-5.0 L775.0,315.0 C775.0,315.0 766.7,313.3 760.0,310.0 C753.3,306.7 741.7,300.8 735.0,295.0 C728.3,289.2 725.8,276.7 720.0,275.0 C714.2,273.3 708.3,281.2 700.0,285.0 C691.7,288.8 680.0,297.2 670.0,298.0 C660.0,298.8 650.0,293.8 640.0,290.0 C630.0,286.2 620.8,280.8 610.0,275.0 C599.2,269.2 585.8,262.5 575.0,255.0 C564.2,247.5 554.2,239.2 545.0,230.0 C535.8,220.8 528.3,210.0 520.0,200.0 C511.7,190.0 503.3,180.0 495.0,170.0 C486.7,160.0 475.0,150.0 470.0,140.0 C465.0,130.0 466.7,120.8 465.0,110.0 C463.3,99.2 464.2,82.5 460.0,75.0 C455.8,67.5 450.0,65.0 440.0,65.0 C430.0,65.0 414.2,72.5 400.0,75.0 C385.8,77.5 368.3,77.5 355.0,80.0 C341.7,82.5 330.0,84.2 320.0,90.0 C310.0,95.8 300.8,105.8 295.0,115.0 C289.2,124.2 284.2,135.8 285.0,145.0 C285.8,154.2 293.3,162.5 300.0,170.0 C306.7,177.5 315.8,184.2 325.0,190.0 C334.2,195.8 345.8,203.3 355.0,205.0 C364.2,206.7 372.5,204.2 380.0,200.0 C387.5,195.8 395.8,188.3 400.0,180.0 C404.2,171.7 402.5,158.3 405.0,150.0 C407.5,141.7 410.0,132.5 415.0,130.0 C420.0,127.5 430.8,130.0 435.0,135.0 C439.2,140.0 438.3,150.0 440.0,160.0 C441.7,170.0 445.8,183.3 445.0,195.0 C444.2,206.7 437.5,218.3 435.0,230.0 C432.5,241.7 428.3,255.0 430.0,265.0 C431.7,275.0 438.3,284.2 445.0,290.0 C451.7,295.8 461.7,295.8 470.0,300.0 C478.3,304.2 490.3,307.5 495.0,315.0 C499.7,322.5 498.8,335.0 498.0,345.0 C497.2,355.0 494.7,366.7 490.0,375.0 C485.3,383.3 478.3,390.8 470.0,395.0 C461.7,399.2 450.0,401.7 440.0,400.0 C430.0,398.3 420.0,391.7 410.0,385.0 C400.0,378.3 391.7,366.7 380.0,360.0 C368.3,353.3 353.3,349.2 340.0,345.0 C326.7,340.8 311.7,338.3 300.0,335.0 C288.3,331.7 280.8,325.8 270.0,325.0 C259.2,324.2 245.0,330.8 235.0,330.0 C225.0,329.2 217.5,325.8 210.0,320.0 C202.5,314.2 196.7,300.0 190.0,295.0 C183.3,290.0 176.7,292.5 170.0,290.0 C163.3,287.5 156.7,283.3 150.0,280.0 C143.3,276.7 136.7,274.2 130.0,270.0 C123.3,265.8 116.3,255.8 110.0,255.0 C103.7,254.2 96.2,257.5 92.0,265.0 C87.8,272.5 88.7,289.2 85.0,300.0 C81.3,310.8 74.2,320.0 70.0,330.0 C65.8,340.0 60.3,350.0 60.0,360.0 C59.7,370.0 68.8,382.0 68.0,390.0 C67.2,398.0 62.2,404.7 55.0,408.0 C47.8,411.3 33.3,412.2 25.0,410.0 C16.7,407.8 10.0,397.5 5.0,395.0 C0.0,392.5 -5.0,395.0 -5.0,395.0 L-5.0,-5.0 Z"/>
<path transform="translate(425,417) scale(0.130208)" fill="#ccff66" d="M718.0,410.0 C722.2,407.5 734.3,410.0 740.0,415.0 C745.7,420.0 751.2,431.7 752.0,440.0 C752.8,448.3 749.0,462.5 745.0,465.0 C741.0,467.5 733.0,460.8 728.0,455.0 C723.0,449.2 716.7,437.5 715.0,430.0 C713.3,422.5 713.8,412.5 718.0,410.0 Z"/>
<path transform="translate(425,417) scale(0.130208)" fill="#ccff66" d="M620.0,680.0 C623.3,671.7 633.3,660.8 640.0,655.0 C646.7,649.2 654.2,643.3 660.0,645.0 C665.8,646.7 671.3,655.8 675.0,665.0 C678.7,674.2 680.3,690.8 682.0,700.0 C683.7,709.2 692.0,717.5 685.0,720.0 C678.0,722.5 650.8,717.5 640.0,715.0 C629.2,712.5 623.3,710.8 620.0,705.0 C616.7,699.2 616.7,688.3 620.0,680.0 Z"/>
<path transform="translate(425,417) scale(0.130208)" fill="#ccff66" d="M678.0,622.0 C679.7,619.0 691.3,616.7 695.0,618.0 C698.7,619.3 701.7,627.0 700.0,630.0 C698.3,633.0 688.7,637.3 685.0,636.0 C681.3,634.7 676.3,625.0 678.0,622.0 Z"/>
<path transform="translate(425,417) scale(0.130208)" fill="#ccff66" d="M440.0,775.0 C440.0,775.0 443.3,745.0 450.0,735.0 C456.7,725.0 468.3,720.0 480.0,715.0 C491.7,710.0 506.7,705.5 520.0,705.0 C533.3,704.5 546.7,710.3 560.0,712.0 C573.3,713.7 586.7,714.5 600.0,715.0 C613.3,715.5 625.8,714.2 640.0,715.0 C654.2,715.8 676.7,715.0 685.0,720.0 C693.3,725.0 690.8,735.8 690.0,745.0 C689.2,754.2 680.0,775.0 680.0,775.0 L440.0,775.0 Z"/>
<path transform="translate(425,417) scale(0.130208)" fill="#ccff66" d="M400.0,775.0 C400.0,775.0 405.0,750.8 410.0,745.0 C415.0,739.2 425.0,735.0 430.0,740.0 C435.0,745.0 440.0,775.0 440.0,775.0 L400.0,775.0 Z"/>
<path transform="translate(525,427) scale(0.143229)" fill="#ccff66" d="M-5.0,-5.0 L345.0,-5.0 C345.0,-5.0 342.5,26.2 338.0,40.0 C333.5,53.8 325.7,67.2 318.0,78.0 C310.3,88.8 300.8,98.8 292.0,105.0 C283.2,111.2 275.3,115.8 265.0,115.0 C254.7,114.2 241.7,100.8 230.0,100.0 C218.3,99.2 206.7,105.3 195.0,110.0 C183.3,114.7 171.7,124.7 160.0,128.0 C148.3,131.3 133.7,126.7 125.0,130.0 C116.3,133.3 111.8,140.0 108.0,148.0 C104.2,156.0 107.5,170.2 102.0,178.0 C96.5,185.8 85.3,192.2 75.0,195.0 C64.7,197.8 50.0,192.8 40.0,195.0 C30.0,197.2 22.5,206.3 15.0,208.0 C7.5,209.7 -5.0,205.0 -5.0,205.0 L-5.0,-5.0 Z"/>
<path transform="translate(107,317) scale(0.171875)" fill="#ccff66" d="M222.0,-5.0 L530.0,-5.0 C530.0,-5.0 536.7,6.2 545.0,12.0 C553.3,17.8 564.2,25.7 580.0,30.0 C595.8,34.3 621.7,33.0 640.0,38.0 C658.3,43.0 675.0,50.5 690.0,60.0 C705.0,69.5 719.2,83.3 730.0,95.0 C740.8,106.7 750.0,119.2 755.0,130.0 C760.0,140.8 762.8,150.8 760.0,160.0 C757.2,169.2 744.3,176.3 738.0,185.0 C731.7,193.7 722.5,203.2 722.0,212.0 C721.5,220.8 727.0,230.8 735.0,238.0 C743.0,245.2 770.0,255.0 770.0,255.0 L770.0,455.0 C770.0,455.0 752.2,440.0 748.0,430.0 C743.8,420.0 748.0,404.7 745.0,395.0 C742.0,385.3 737.5,378.5 730.0,372.0 C722.5,365.5 711.7,359.7 700.0,356.0 C688.3,352.3 675.0,351.7 660.0,350.0 C645.0,348.3 624.2,345.7 610.0,346.0 C595.8,346.3 586.7,350.3 575.0,352.0 C563.3,353.7 550.8,357.0 540.0,356.0 C529.2,355.0 520.8,348.7 510.0,346.0 C499.2,343.3 484.2,339.3 475.0,340.0 C465.8,340.7 462.2,347.0 455.0,350.0 C447.8,353.0 439.2,358.7 432.0,358.0 C424.8,357.3 418.2,352.3 412.0,346.0 C405.8,339.7 400.3,330.2 395.0,320.0 C389.7,309.8 381.7,294.7 380.0,285.0 C378.3,275.3 377.5,267.0 385.0,262.0 C392.5,257.0 418.8,260.7 425.0,255.0 C431.2,249.3 426.2,233.8 422.0,228.0 C417.8,222.2 412.3,221.0 400.0,220.0 C387.7,219.0 357.2,225.3 348.0,222.0 C338.8,218.7 350.0,205.3 345.0,200.0 C340.0,194.7 323.3,195.8 318.0,190.0 C312.7,184.2 312.7,174.2 313.0,165.0 C313.3,155.8 315.8,144.2 320.0,135.0 C324.2,125.8 336.3,118.3 338.0,110.0 C339.7,101.7 336.3,92.5 330.0,85.0 C323.7,77.5 310.8,70.0 300.0,65.0 C289.2,60.0 275.8,59.2 265.0,55.0 C254.2,50.8 242.2,50.0 235.0,40.0 C227.8,30.0 222.0,-5.0 222.0,-5.0 Z"/>
<path transform="translate(107,317) scale(0.171875)" fill="#ccff66" d="M195.0,155.0 C195.0,147.5 202.5,143.7 210.0,140.0 C217.5,136.3 230.0,132.2 240.0,133.0 C250.0,133.8 262.5,138.8 270.0,145.0 C277.5,151.2 279.2,163.8 285.0,170.0 C290.8,176.2 300.5,177.0 305.0,182.0 C309.5,187.0 312.8,193.3 312.0,200.0 C311.2,206.7 307.0,217.0 300.0,222.0 C293.0,227.0 279.2,230.7 270.0,230.0 C260.8,229.3 250.8,223.0 245.0,218.0 C239.2,213.0 240.8,205.5 235.0,200.0 C229.2,194.5 216.7,192.5 210.0,185.0 C203.3,177.5 195.0,162.5 195.0,155.0 Z"/>
<path transform="translate(107,317) scale(0.171875)" fill="#ccff66" d="M355.0,570.0 C363.3,565.8 386.7,562.8 400.0,560.0 C413.3,557.2 426.3,550.5 435.0,553.0 C443.7,555.5 450.3,565.5 452.0,575.0 C453.7,584.5 448.7,599.2 445.0,610.0 C441.3,620.8 436.7,630.3 430.0,640.0 C423.3,649.7 413.3,661.7 405.0,668.0 C396.7,674.3 380.0,678.0 380.0,678.0 C380.0,678.0 358.0,675.8 350.0,672.0 C342.0,668.2 335.3,660.3 332.0,655.0 C328.7,649.7 328.7,647.5 330.0,640.0 C331.3,632.5 336.7,619.2 340.0,610.0 C343.3,600.8 347.5,591.7 350.0,585.0 C352.5,578.3 346.7,574.2 355.0,570.0 Z"/>
<path transform="translate(107,317) scale(0.171875)" fill="#ccff66" d="M515.0,600.0 C516.7,591.7 525.8,584.7 535.0,580.0 C544.2,575.3 559.5,571.2 570.0,572.0 C580.5,572.8 592.7,578.7 598.0,585.0 C603.3,591.3 605.0,602.2 602.0,610.0 C599.0,617.8 588.7,627.0 580.0,632.0 C571.3,637.0 559.2,640.3 550.0,640.0 C540.8,639.7 530.8,636.7 525.0,630.0 C519.2,623.3 513.3,608.3 515.0,600.0 Z"/>
<path transform="translate(239,317) scale(0.171875)" fill="#ccff66" d="M-5.0,258.0 C-5.0,258.0 18.3,255.0 30.0,255.0 C41.7,255.0 56.7,254.7 65.0,258.0 C73.3,261.3 72.5,268.8 80.0,275.0 C87.5,281.2 98.3,289.5 110.0,295.0 C121.7,300.5 137.5,304.7 150.0,308.0 C162.5,311.3 174.2,310.5 185.0,315.0 C195.8,319.5 206.2,326.7 215.0,335.0 C223.8,343.3 233.0,354.2 238.0,365.0 C243.0,375.8 245.0,387.5 245.0,400.0 C245.0,412.5 243.0,427.5 238.0,440.0 C233.0,452.5 223.8,465.0 215.0,475.0 C206.2,485.0 195.8,492.8 185.0,500.0 C174.2,507.2 160.8,514.3 150.0,518.0 C139.2,521.7 130.0,523.3 120.0,522.0 C110.0,520.7 101.7,512.8 90.0,510.0 C78.3,507.2 61.7,509.2 50.0,505.0 C38.3,500.8 29.2,491.7 20.0,485.0 C10.8,478.3 -5.0,465.0 -5.0,465.0 L-5.0,258.0 Z"/>
<path transform="translate(239,317) scale(0.171875)" fill="#ccff66" d="M440.0,130.0 C447.5,123.3 465.8,127.0 480.0,125.0 C494.2,123.0 516.3,113.8 525.0,118.0 C533.7,122.2 532.0,138.0 532.0,150.0 C532.0,162.0 531.2,182.5 525.0,190.0 C518.8,197.5 505.0,193.3 495.0,195.0 C485.0,196.7 473.3,195.0 465.0,200.0 C456.7,205.0 451.7,216.7 445.0,225.0 C438.3,233.3 431.7,244.2 425.0,250.0 C418.3,255.8 407.5,262.5 405.0,260.0 C402.5,257.5 406.7,245.0 410.0,235.0 C413.3,225.0 420.8,211.7 425.0,200.0 C429.2,188.3 432.5,176.7 435.0,165.0 C437.5,153.3 432.5,136.7 440.0,130.0 Z"/>
<path transform="translate(239,317) scale(0.171875)" fill="#ccff66" d="M372.0,368.0 C373.0,364.7 378.3,363.7 380.0,366.0 C381.7,368.3 383.0,378.7 382.0,382.0 C381.0,385.3 375.7,388.3 374.0,386.0 C372.3,383.7 371.0,371.3 372.0,368.0 Z"/>
<path transform="translate(107,433) scale(0.153646)" fill="#ffffff" d="M775.0,465.0 C775.0,465.0 755.0,480.8 745.0,490.0 C735.0,499.2 722.5,510.0 715.0,520.0 C707.5,530.0 701.7,540.8 700.0,550.0 C698.3,559.2 701.7,568.3 705.0,575.0 C708.3,581.7 712.5,588.3 720.0,590.0 C727.5,591.7 740.8,586.7 750.0,585.0 C759.2,583.3 775.0,580.0 775.0,580.0 L775.0,465.0 Z"/>
<path transform="translate(225,585) scale(0.130208)" fill="#ffffff" d="M550.0,240.0 C554.2,236.2 566.7,232.0 575.0,232.0 C583.3,232.0 595.5,235.7 600.0,240.0 C604.5,244.3 604.5,253.0 602.0,258.0 C599.5,263.0 591.7,268.3 585.0,270.0 C578.3,271.7 567.8,270.5 562.0,268.0 C556.2,265.5 552.0,259.7 550.0,255.0 C548.0,250.3 545.8,243.8 550.0,240.0 Z"/>
<path transform="translate(225,585) scale(0.130208)" fill="#ffffff" d="M312.0,332.0 C313.5,329.0 320.0,329.3 322.0,332.0 C324.0,334.7 325.5,345.0 324.0,348.0 C322.5,351.0 315.0,352.7 313.0,350.0 C311.0,347.3 310.5,335.0 312.0,332.0 Z"/>
<path transform="translate(225,500) scale(0.130208)" fill="#ffffff" d="M-5.0,25.0 C-5.0,25.0 20.0,25.8 30.0,30.0 C40.0,34.2 50.0,42.5 55.0,50.0 C60.0,57.5 61.7,67.5 60.0,75.0 C58.3,82.5 50.8,88.3 45.0,95.0 C39.2,101.7 33.3,105.8 25.0,115.0 C16.7,124.2 -5.0,150.0 -5.0,150.0 L-5.0,25.0 Z"/>
<path transform="translate(325,317) scale(0.130208)" fill="#ffffff" d="M345.0,428.0 C351.7,420.8 363.3,411.3 375.0,402.0 C386.7,392.7 401.7,378.7 415.0,372.0 C428.3,365.3 447.2,361.0 455.0,362.0 C462.8,363.0 465.8,372.0 462.0,378.0 C458.2,384.0 441.0,391.3 432.0,398.0 C423.0,404.7 410.0,409.3 408.0,418.0 C406.0,426.7 413.8,440.0 420.0,450.0 C426.2,460.0 436.7,469.7 445.0,478.0 C453.3,486.3 460.8,494.3 470.0,500.0 C479.2,505.7 490.0,506.2 500.0,512.0 C510.0,517.8 520.0,529.0 530.0,535.0 C540.0,541.0 548.3,544.2 560.0,548.0 C571.7,551.8 588.3,555.2 600.0,558.0 C611.7,560.8 622.0,559.7 630.0,565.0 C638.0,570.3 646.3,577.5 648.0,590.0 C649.7,602.5 639.3,623.3 640.0,640.0 C640.7,656.7 652.0,675.8 652.0,690.0 C652.0,704.2 643.7,710.0 640.0,725.0 C636.3,740.0 630.0,780.0 630.0,780.0 L378.0,780.0 C378.0,780.0 377.7,745.0 376.0,730.0 C374.3,715.0 371.5,704.2 368.0,690.0 C364.5,675.8 360.5,660.0 355.0,645.0 C349.5,630.0 342.2,612.5 335.0,600.0 C327.8,587.5 317.8,580.0 312.0,570.0 C306.2,560.0 302.0,551.7 300.0,540.0 C298.0,528.3 297.0,511.7 300.0,500.0 C303.0,488.3 312.2,479.2 318.0,470.0 C323.8,460.8 330.5,452.0 335.0,445.0 C339.5,438.0 338.3,435.2 345.0,428.0 Z"/>
<path transform="translate(325,317) scale(0.130208)" fill="#ffffff" d="M660.0,575.0 C661.7,570.0 675.3,567.5 680.0,570.0 C684.7,572.5 689.7,585.0 688.0,590.0 C686.3,595.0 674.7,602.5 670.0,600.0 C665.3,597.5 658.3,580.0 660.0,575.0 Z"/>
<path transform="translate(325,317) scale(0.130208)" fill="#ffffff" d="M700.0,600.0 C702.2,595.5 714.3,594.7 718.0,598.0 C721.7,601.3 724.2,615.5 722.0,620.0 C719.8,624.5 708.7,628.3 705.0,625.0 C701.3,621.7 697.8,604.5 700.0,600.0 Z"/>
<path transform="translate(325,317) scale(0.130208)" fill="#ffffff" d="M738.0,2.0 C743.0,0.0 775.0,2.0 775.0,2.0 L775.0,14.0 C775.0,14.0 767.0,20.0 762.0,20.0 C757.0,20.0 749.0,17.0 745.0,14.0 C741.0,11.0 733.0,4.0 738.0,2.0 Z"/>
<path transform="translate(325,417) scale(0.130208)" fill="#ffffff" d="M655.0,40.0 C663.0,31.7 688.3,26.7 700.0,30.0 C711.7,33.3 721.3,46.7 725.0,60.0 C728.7,73.3 723.7,93.3 722.0,110.0 C720.3,126.7 720.3,146.7 715.0,160.0 C709.7,173.3 697.5,180.0 690.0,190.0 C682.5,200.0 675.0,207.5 670.0,220.0 C665.0,232.5 665.0,257.0 660.0,265.0 C655.0,273.0 643.7,275.5 640.0,268.0 C636.3,260.5 637.2,234.7 638.0,220.0 C638.8,205.3 643.0,195.0 645.0,180.0 C647.0,165.0 648.8,146.7 650.0,130.0 C651.2,113.3 651.2,95.0 652.0,80.0 C652.8,65.0 647.0,48.3 655.0,40.0 Z"/>
<path transform="translate(425,317) scale(0.130208)" fill="#ffffff" d="M165.0,300.0 C169.2,293.8 178.3,288.0 185.0,288.0 C191.7,288.0 198.3,293.0 205.0,300.0 C211.7,307.0 218.3,319.2 225.0,330.0 C231.7,340.8 238.8,353.3 245.0,365.0 C251.2,376.7 259.8,390.0 262.0,400.0 C264.2,410.0 262.5,418.3 258.0,425.0 C253.5,431.7 243.8,437.8 235.0,440.0 C226.2,442.2 213.3,442.2 205.0,438.0 C196.7,433.8 190.5,423.8 185.0,415.0 C179.5,406.2 173.2,395.0 172.0,385.0 C170.8,375.0 180.0,365.0 178.0,355.0 C176.0,345.0 162.2,334.2 160.0,325.0 C157.8,315.8 160.8,306.2 165.0,300.0 Z"/>
<path transform="translate(425,317) scale(0.130208)" fill="#ffffff" d="M140.0,5.0 C144.2,2.8 165.3,2.5 170.0,5.0 C174.7,7.5 172.2,17.8 168.0,20.0 C163.8,22.2 149.7,20.5 145.0,18.0 C140.3,15.5 135.8,7.2 140.0,5.0 Z"/>
<path transform="translate(425,417) scale(0.130208)" fill="#ffffff" d="M80.0,85.0 C83.3,80.8 91.7,90.0 100.0,95.0 C108.3,100.0 121.7,109.2 130.0,115.0 C138.3,120.8 145.8,122.5 150.0,130.0 C154.2,137.5 155.8,149.2 155.0,160.0 C154.2,170.8 149.2,184.2 145.0,195.0 C140.8,205.8 135.0,221.7 130.0,225.0 C125.0,228.3 120.0,221.7 115.0,215.0 C110.0,208.3 104.2,195.8 100.0,185.0 C95.8,174.2 93.3,160.8 90.0,150.0 C86.7,139.2 81.7,130.8 80.0,120.0 C78.3,109.2 76.7,89.2 80.0,85.0 Z"/>
<path transform="translate(107,317) scale(0.171875)" fill="#ffffff" d="M431.0,272.0 C431.7,269.8 434.8,266.0 437.0,266.0 C439.2,266.0 443.5,269.7 444.0,272.0 C444.5,274.3 441.8,278.8 440.0,280.0 C438.2,281.2 434.5,280.3 433.0,279.0 C431.5,277.7 430.3,274.2 431.0,272.0 Z"/>
<path transform="translate(507,537) scale(0.166667)" fill="#ffd200" d="M345.0,50.0 C352.5,44.2 365.8,42.5 380.0,40.0 C394.2,37.5 413.3,35.3 430.0,35.0 C446.7,34.7 463.3,36.3 480.0,38.0 C496.7,39.7 516.7,42.2 530.0,45.0 C543.3,47.8 550.0,50.8 560.0,55.0 C570.0,59.2 578.3,66.7 590.0,70.0 C601.7,73.3 616.7,74.7 630.0,75.0 C643.3,75.3 657.5,71.2 670.0,72.0 C682.5,72.8 697.5,73.7 705.0,80.0 C712.5,86.3 711.7,100.8 715.0,110.0 C718.3,119.2 717.5,129.2 725.0,135.0 C732.5,140.8 751.7,142.5 760.0,145.0 C768.3,147.5 775.0,150.0 775.0,150.0 L775.0,210.0 C775.0,210.0 752.5,207.5 740.0,205.0 C727.5,202.5 712.5,197.5 700.0,195.0 C687.5,192.5 674.2,187.5 665.0,190.0 C655.8,192.5 651.7,200.8 645.0,210.0 C638.3,219.2 630.0,236.7 625.0,245.0 C620.0,253.3 619.2,261.7 615.0,260.0 C610.8,258.3 605.8,240.8 600.0,235.0 C594.2,229.2 590.0,228.3 580.0,225.0 C570.0,221.7 553.3,217.5 540.0,215.0 C526.7,212.5 511.7,212.5 500.0,210.0 C488.3,207.5 480.0,204.2 470.0,200.0 C460.0,195.8 450.0,189.2 440.0,185.0 C430.0,180.8 420.0,177.5 410.0,175.0 C400.0,172.5 390.0,171.7 380.0,170.0 C370.0,168.3 360.0,166.7 350.0,165.0 C340.0,163.3 329.2,161.7 320.0,160.0 C310.8,158.3 300.8,157.0 295.0,155.0 C289.2,153.0 284.2,152.2 285.0,148.0 C285.8,143.8 294.2,137.2 300.0,130.0 C305.8,122.8 314.2,114.2 320.0,105.0 C325.8,95.8 330.8,84.2 335.0,75.0 C339.2,65.8 337.5,55.8 345.0,50.0 Z"/>
<path transform="translate(507,537) scale(0.166667)" fill="#ffd200" d="M555.0,375.0 C558.3,370.3 569.2,369.5 575.0,372.0 C580.8,374.5 585.8,382.0 590.0,390.0 C594.2,398.0 595.8,410.0 600.0,420.0 C604.2,430.0 609.2,440.8 615.0,450.0 C620.8,459.2 625.8,469.2 635.0,475.0 C644.2,480.8 665.0,481.7 670.0,485.0 C675.0,488.3 670.0,491.7 665.0,495.0 C660.0,498.3 648.3,500.0 640.0,505.0 C631.7,510.0 623.3,518.3 615.0,525.0 C606.7,531.7 597.5,540.0 590.0,545.0 C582.5,550.0 575.3,554.2 570.0,555.0 C564.7,555.8 557.2,554.2 558.0,550.0 C558.8,545.8 570.5,538.3 575.0,530.0 C579.5,521.7 584.2,511.7 585.0,500.0 C585.8,488.3 582.8,472.5 580.0,460.0 C577.2,447.5 572.2,435.0 568.0,425.0 C563.8,415.0 557.2,408.3 555.0,400.0 C552.8,391.7 551.7,379.7 555.0,375.0 Z"/>
<path transform="translate(507,537) scale(0.166667)" fill="#ffd200" d="M765.0,625.0 C767.5,621.7 775.0,625.0 775.0,625.0 L775.0,700.0 C775.0,700.0 760.0,715.0 755.0,715.0 C750.0,715.0 747.5,705.0 745.0,700.0 C742.5,695.0 738.3,690.0 740.0,685.0 C741.7,680.0 751.7,676.7 755.0,670.0 C758.3,663.3 758.3,652.5 760.0,645.0 C761.7,637.5 762.5,628.3 765.0,625.0 Z"/>
<path transform="translate(507,537) scale(0.166667)" fill="#ffd200" d="M618.0,700.0 C620.2,693.0 628.8,694.7 635.0,698.0 C641.2,701.3 648.8,712.2 655.0,720.0 C661.2,727.8 668.2,735.8 672.0,745.0 C675.8,754.2 678.0,775.0 678.0,775.0 L625.0,775.0 C625.0,775.0 623.2,752.5 622.0,740.0 C620.8,727.5 615.8,707.0 618.0,700.0 Z"/>
<path transform="translate(507,537) scale(0.166667)" fill="#ffd200" d="M688.0,614.0 C689.7,612.0 697.7,612.0 700.0,614.0 C702.3,616.0 703.7,624.0 702.0,626.0 C700.3,628.0 692.3,628.0 690.0,626.0 C687.7,624.0 686.3,616.0 688.0,614.0 Z"/>
<path transform="translate(507,537) scale(0.166667)" fill="#ffeb9b" d="M608.0,116.0 C608.7,112.3 614.0,110.0 618.0,112.0 C622.0,114.0 630.3,123.0 632.0,128.0 C633.7,133.0 631.0,141.0 628.0,142.0 C625.0,143.0 617.3,138.3 614.0,134.0 C610.7,129.7 607.3,119.7 608.0,116.0 Z"/>
<path transform="translate(325,317) scale(0.130208)" fill="#33ff00" d="M665.0,65.0 C671.7,60.3 687.5,59.5 700.0,62.0 C712.5,64.5 726.7,72.8 740.0,80.0 C753.3,87.2 780.0,105.0 780.0,105.0 L780.0,178.0 C780.0,178.0 750.8,181.3 740.0,180.0 C729.2,178.7 723.3,175.0 715.0,170.0 C706.7,165.0 697.5,158.3 690.0,150.0 C682.5,141.7 675.0,130.0 670.0,120.0 C665.0,110.0 660.8,99.2 660.0,90.0 C659.2,80.8 658.3,69.7 665.0,65.0 Z"/>
<path transform="translate(425,317) scale(0.130208)" fill="#33ff00" d="M-5.0,95.0 C-5.0,95.0 14.2,79.8 25.0,72.0 C35.8,64.2 45.8,53.3 60.0,48.0 C74.2,42.7 89.2,41.3 110.0,40.0 C130.8,38.7 172.5,47.5 185.0,40.0 C197.5,32.5 185.0,-5.0 185.0,-5.0 L305.0,-5.0 C305.0,-5.0 291.7,30.8 285.0,45.0 C278.3,59.2 271.7,69.2 265.0,80.0 C258.3,90.8 253.3,102.5 245.0,110.0 C236.7,117.5 224.2,121.7 215.0,125.0 C205.8,128.3 197.2,127.5 190.0,130.0 C182.8,132.5 176.2,135.0 172.0,140.0 C167.8,145.0 165.0,151.7 165.0,160.0 C165.0,168.3 171.5,180.0 172.0,190.0 C172.5,200.0 170.0,211.7 168.0,220.0 C166.0,228.3 165.5,238.0 160.0,240.0 C154.5,242.0 143.3,232.7 135.0,232.0 C126.7,231.3 119.2,237.2 110.0,236.0 C100.8,234.8 89.2,230.2 80.0,225.0 C70.8,219.8 64.2,211.2 55.0,205.0 C45.8,198.8 35.0,191.8 25.0,188.0 C15.0,184.2 -5.0,182.0 -5.0,182.0 L-5.0,95.0 Z"/>
<path transform="translate(425,317) scale(0.130208)" fill="#33ff00" d="M555.0,45.0 C561.7,40.5 577.5,36.3 585.0,38.0 C592.5,39.7 597.8,48.0 600.0,55.0 C602.2,62.0 601.3,73.3 598.0,80.0 C594.7,86.7 582.2,87.5 580.0,95.0 C577.8,102.5 580.0,114.2 585.0,125.0 C590.0,135.8 600.8,147.5 610.0,160.0 C619.2,172.5 630.0,186.7 640.0,200.0 C650.0,213.3 660.0,227.5 670.0,240.0 C680.0,252.5 694.2,265.8 700.0,275.0 C705.8,284.2 708.3,290.8 705.0,295.0 C701.7,299.2 690.8,302.5 680.0,300.0 C669.2,297.5 653.3,285.8 640.0,280.0 C626.7,274.2 613.3,270.8 600.0,265.0 C586.7,259.2 572.5,253.3 560.0,245.0 C547.5,236.7 533.7,225.0 525.0,215.0 C516.3,205.0 509.7,195.0 508.0,185.0 C506.3,175.0 509.7,164.2 515.0,155.0 C520.3,145.8 534.5,140.0 540.0,130.0 C545.5,120.0 547.2,105.8 548.0,95.0 C548.8,84.2 543.8,73.3 545.0,65.0 C546.2,56.7 548.3,49.5 555.0,45.0 Z"/>
<path transform="translate(425,317) scale(0.130208)" fill="#33ff00" d="M545.0,280.0 C545.8,276.7 555.8,281.7 560.0,285.0 C564.2,288.3 570.8,296.7 570.0,300.0 C569.2,303.3 559.2,308.3 555.0,305.0 C550.8,301.7 544.2,283.3 545.0,280.0 Z"/>
<path transform="translate(425,317) scale(0.130208)" fill="#33ff00" d="M722.0,345.0 C724.5,343.0 740.3,355.0 745.0,360.0 C749.7,365.0 752.5,373.0 750.0,375.0 C747.5,377.0 734.7,377.0 730.0,372.0 C725.3,367.0 719.5,347.0 722.0,345.0 Z"/>
<path transform="translate(425,317) scale(0.130208)" fill="#33ff00" d="M326.0,190.0 C327.7,188.3 334.3,188.3 336.0,190.0 C337.7,191.7 337.7,198.3 336.0,200.0 C334.3,201.7 327.7,201.7 326.0,200.0 C324.3,198.3 324.3,191.7 326.0,190.0 Z"/>
<path transform="translate(425,317) scale(0.130208)" fill="#33ff00" d="M592.0,14.0 C594.0,12.3 602.0,12.3 604.0,14.0 C606.0,15.7 606.0,22.3 604.0,24.0 C602.0,25.7 594.0,25.7 592.0,24.0 C590.0,22.3 590.0,15.7 592.0,14.0 Z"/>
<path transform="translate(107,317) scale(0.171875)" fill="#33ff00" d="M565.0,95.0 C572.5,87.8 587.5,87.8 600.0,87.0 C612.5,86.2 628.3,86.2 640.0,90.0 C651.7,93.8 663.0,101.7 670.0,110.0 C677.0,118.3 681.2,129.2 682.0,140.0 C682.8,150.8 680.3,163.3 675.0,175.0 C669.7,186.7 659.2,199.2 650.0,210.0 C640.8,220.8 629.2,233.7 620.0,240.0 C610.8,246.3 605.0,248.8 595.0,248.0 C585.0,247.2 569.2,241.3 560.0,235.0 C550.8,228.7 542.5,220.8 540.0,210.0 C537.5,199.2 542.5,183.3 545.0,170.0 C547.5,156.7 551.7,142.5 555.0,130.0 C558.3,117.5 557.5,102.2 565.0,95.0 Z"/>
<path transform="translate(425,317) scale(0.130208)" fill="#009933" d="M65.0,95.0 C71.2,90.0 85.8,85.0 95.0,85.0 C104.2,85.0 113.3,88.3 120.0,95.0 C126.7,101.7 132.0,113.3 135.0,125.0 C138.0,136.7 139.7,153.3 138.0,165.0 C136.3,176.7 131.3,190.0 125.0,195.0 C118.7,200.0 107.8,198.3 100.0,195.0 C92.2,191.7 84.3,183.3 78.0,175.0 C71.7,166.7 65.3,155.0 62.0,145.0 C58.7,135.0 57.5,123.3 58.0,115.0 C58.5,106.7 58.8,100.0 65.0,95.0 Z"/>
<path fill="none" stroke="#505050" stroke-width="1.0" stroke-linecap="round" stroke-dasharray="0.1 6.1" d="M285.7,156.3 L-320.5,-193.7"/>
<path fill="none" stroke="#505050" stroke-width="1.0" stroke-linecap="round" stroke-dasharray="0.1 6.1" d="M275.7,180.4 L-400.4,-0.8"/>
<path fill="none" stroke="#505050" stroke-width="1.0" stroke-linecap="round" stroke-dasharray="0.1 6.1" d="M272.3,206.3 L-427.7,206.3"/>
<path fill="none" stroke="#505050" stroke-width="1.0" stroke-linecap="round" stroke-dasharray="0.1 6.1" d="M275.7,232.2 L-400.4,413.4"/>
<path fill="none" stroke="#505050" stroke-width="1.0" stroke-linecap="round" stroke-dasharray="0.1 6.1" d="M285.7,256.3 L-320.5,606.3"/>
<path fill="none" stroke="#505050" stroke-width="1.0" stroke-linecap="round" stroke-dasharray="0.1 6.1" d="M301.6,277.0 L-193.4,772.0"/>
<path fill="none" stroke="#505050" stroke-width="1.0" stroke-linecap="round" stroke-dasharray="0.1 6.1" d="M322.3,292.9 L-27.7,899.1"/>
<path fill="none" stroke="#505050" stroke-width="1.0" stroke-linecap="round" stroke-dasharray="0.1 6.1" d="M346.4,302.9 L165.2,979.0"/>
<path fill="none" stroke="#505050" stroke-width="1.0" stroke-linecap="round" stroke-dasharray="0.1 6.1" d="M372.3,306.3 L372.3,1006.3"/>
<path fill="none" stroke="#505050" stroke-width="1.0" stroke-linecap="round" stroke-dasharray="0.1 6.1" d="M398.2,302.9 L579.4,979.0"/>
<path fill="none" stroke="#505050" stroke-width="1.0" stroke-linecap="round" stroke-dasharray="0.1 6.1" d="M422.3,292.9 L772.3,899.1"/>
<path fill="none" stroke="#505050" stroke-width="1.0" stroke-linecap="round" stroke-dasharray="0.1 6.1" d="M443.0,277.0 L938.0,772.0"/>
<path fill="none" stroke="#505050" stroke-width="1.0" stroke-linecap="round" stroke-dasharray="0.1 6.1" d="M458.9,256.3 L1065.1,606.3"/>
<path fill="none" stroke="#505050" stroke-width="1.0" stroke-linecap="round" stroke-dasharray="0.1 6.1" d="M468.9,232.2 L1145.0,413.4"/>
<path fill="none" stroke="#505050" stroke-width="1.0" stroke-linecap="round" stroke-dasharray="0.1 6.1" d="M472.3,206.3 L1172.3,206.3"/>
<path fill="none" stroke="#505050" stroke-width="1.0" stroke-linecap="round" stroke-dasharray="0.1 6.1" d="M468.9,180.4 L1145.0,-0.8"/>
<path fill="none" stroke="#505050" stroke-width="1.0" stroke-linecap="round" stroke-dasharray="0.1 6.1" d="M458.9,156.3 L1065.1,-193.7"/>
<circle fill="none" stroke="#505050" stroke-width="1.0" stroke-linecap="round" stroke-dasharray="0.1 6.1" cx="372.3" cy="206.3" r="210.0"/>
<circle fill="none" stroke="#505050" stroke-width="1.0" stroke-linecap="round" stroke-dasharray="0.1 6.1" cx="372.3" cy="206.3" r="324.6"/>
<circle fill="none" stroke="#505050" stroke-width="1.0" stroke-linecap="round" stroke-dasharray="0.1 6.1" cx="372.3" cy="206.3" r="452.5"/>
<circle fill="none" stroke="#505050" stroke-width="1.0" stroke-linecap="round" stroke-dasharray="0.1 6.1" cx="372.3" cy="206.3" r="601.4"/>
<path transform="translate(107,551) scale(0.153646)" fill="none" stroke="#bbbbbb" stroke-width="0.7" stroke-linejoin="round" vector-effect="non-scaling-stroke" d="M210,735 L275,595 L445,672 L480,610 L560,735"/>
<path transform="translate(107,551) scale(0.153646)" fill="none" stroke="#bbbbbb" stroke-width="0.7" stroke-linejoin="round" vector-effect="non-scaling-stroke" d="M480,610 L510,525 L560,515 L600,505 L640,515 L690,515 L730,495 L775,495"/>
<path transform="translate(225,585) scale(0.130208)" fill="none" stroke="#bbbbbb" stroke-width="0.7" stroke-linejoin="round" vector-effect="non-scaling-stroke" d="M215,85 L218,120 L205,160 L200,200 L210,240 L215,265 L195,285 L160,275 L130,265 L100,270 L70,265 L45,272 L35,300 L40,320 L0,325"/>
<path transform="translate(225,585) scale(0.130208)" fill="none" stroke="#bbbbbb" stroke-width="0.7" stroke-linejoin="round" vector-effect="non-scaling-stroke" d="M775,200 L745,230 L720,255 L710,280 L720,310 L740,340 L755,370 L775,385"/>
<path transform="translate(325,600) scale(0.130208)" fill="none" stroke="#bbbbbb" stroke-width="0.7" stroke-linejoin="round" vector-effect="non-scaling-stroke" d="M165,235 L160,270 L120,295 L85,320 L70,345 L78,375 L60,405 L30,420 L25,440 L35,470 L40,495"/>
<path transform="translate(325,600) scale(0.130208)" fill="none" stroke="#bbbbbb" stroke-width="0.7" stroke-linejoin="round" vector-effect="non-scaling-stroke" d="M0,275 L15,300 L22,350 L20,400 L25,440"/>
<path transform="translate(425,600) scale(0.130208)" fill="none" stroke="#bbbbbb" stroke-width="0.7" stroke-linejoin="round" vector-effect="non-scaling-stroke" d="M175,290 L180,340 L185,390 L200,440 L210,495"/>
<path transform="translate(425,600) scale(0.130208)" fill="none" stroke="#bbbbbb" stroke-width="0.7" stroke-linejoin="round" vector-effect="non-scaling-stroke" d="M720,160 L745,210 L775,240"/>
<path transform="translate(225,500) scale(0.130208)" fill="none" stroke="#bbbbbb" stroke-width="0.7" stroke-linejoin="round" vector-effect="non-scaling-stroke" d="M60,190 L80,215 L120,230 L145,260 L120,285 L95,320 L75,350 L50,360 L45,400 L30,430 L20,460 L-5,470"/>
<path transform="translate(225,500) scale(0.130208)" fill="none" stroke="#bbbbbb" stroke-width="0.7" stroke-linejoin="round" vector-effect="non-scaling-stroke" d="M385,235 L410,265 L450,285 L490,295 L520,320 L560,335 L585,330"/>
<path transform="translate(225,500) scale(0.130208)" fill="none" stroke="#bbbbbb" stroke-width="0.7" stroke-linejoin="round" vector-effect="non-scaling-stroke" d="M200,730 L215,775"/>
<path transform="translate(325,517) scale(0.130208)" fill="none" stroke="#bbbbbb" stroke-width="0.7" stroke-linejoin="round" vector-effect="non-scaling-stroke" d="M0,30 L20,60 L10,90 L-5,110"/>
<path transform="translate(325,517) scale(0.130208)" fill="none" stroke="#bbbbbb" stroke-width="0.7" stroke-linejoin="round" vector-effect="non-scaling-stroke" d="M260,0 L300,10 L340,20 L400,15 L430,0"/>
<path transform="translate(325,517) scale(0.130208)" fill="none" stroke="#bbbbbb" stroke-width="0.7" stroke-linejoin="round" vector-effect="non-scaling-stroke" d="M295,58 L310,40 L340,30"/>
<path transform="translate(325,517) scale(0.130208)" fill="none" stroke="#bbbbbb" stroke-width="0.7" stroke-linejoin="round" vector-effect="non-scaling-stroke" d="M395,100 L440,95 L500,90 L540,100 L545,140 L530,180 L520,215 L545,250 L560,270"/>
<path transform="translate(325,517) scale(0.130208)" fill="none" stroke="#bbbbbb" stroke-width="0.7" stroke-linejoin="round" vector-effect="non-scaling-stroke" d="M420,30 L470,40 L520,50 L560,85 L600,90 L640,80 L700,110 L720,150"/>
<path transform="translate(325,517) scale(0.130208)" fill="none" stroke="#bbbbbb" stroke-width="0.7" stroke-linejoin="round" vector-effect="non-scaling-stroke" d="M560,85 L545,140"/>
<path transform="translate(325,517) scale(0.130208)" fill="none" stroke="#bbbbbb" stroke-width="0.7" stroke-linejoin="round" vector-effect="non-scaling-stroke" d="M545,250 L590,235 L620,260 L640,300 L620,330 L600,350 L580,340"/>
<path transform="translate(325,517) scale(0.130208)" fill="none" stroke="#bbbbbb" stroke-width="0.7" stroke-linejoin="round" vector-effect="non-scaling-stroke" d="M640,300 L690,260 L730,280 L740,310 L700,335 L650,345 L620,330"/>
<path transform="translate(325,517) scale(0.130208)" fill="none" stroke="#bbbbbb" stroke-width="0.7" stroke-linejoin="round" vector-effect="non-scaling-stroke" d="M700,110 L690,170 L720,210 L700,250 L690,260"/>
<path transform="translate(325,517) scale(0.130208)" fill="none" stroke="#bbbbbb" stroke-width="0.7" stroke-linejoin="round" vector-effect="non-scaling-stroke" d="M720,150 L775,150"/>
<path transform="translate(325,517) scale(0.130208)" fill="none" stroke="#bbbbbb" stroke-width="0.7" stroke-linejoin="round" vector-effect="non-scaling-stroke" d="M600,350 L610,400 L640,440"/>
<path transform="translate(325,517) scale(0.130208)" fill="none" stroke="#bbbbbb" stroke-width="0.7" stroke-linejoin="round" vector-effect="non-scaling-stroke" d="M650,345 L680,360 L740,355"/>
<path transform="translate(325,517) scale(0.130208)" fill="none" stroke="#bbbbbb" stroke-width="0.7" stroke-linejoin="round" vector-effect="non-scaling-stroke" d="M-5,640 L10,680 L5,720"/>
<path transform="translate(425,517) scale(0.130208)" fill="none" stroke="#bbbbbb" stroke-width="0.7" stroke-linejoin="round" vector-effect="non-scaling-stroke" d="M705,410 L740,400 L775,395 M705,410 L715,470 L700,500 M722,560 L750,575 L775,570"/>
<path transform="translate(425,517) scale(0.130208)" fill="none" stroke="#bbbbbb" stroke-width="0.7" stroke-linejoin="round" vector-effect="non-scaling-stroke" d="M0,150 L40,140 L80,120 L120,100 L160,100 L195,110"/>
<path transform="translate(425,517) scale(0.130208)" fill="none" stroke="#bbbbbb" stroke-width="0.7" stroke-linejoin="round" vector-effect="non-scaling-stroke" d="M0,300 L40,285 L80,290 L120,275 L130,245 L160,225 L185,215 M130,245 L140,290 L150,320"/>
<path transform="translate(395,540) scale(0.091146)" fill="none" stroke="#bbbbbb" stroke-width="0.7" stroke-linejoin="round" vector-effect="non-scaling-stroke" d="M0,20 L40,35 L80,60 L110,90"/>
<path transform="translate(395,540) scale(0.091146)" fill="none" stroke="#bbbbbb" stroke-width="0.7" stroke-linejoin="round" vector-effect="non-scaling-stroke" d="M125,175 L140,135 L180,110 L230,105 L270,130 L290,160 L275,195 L240,215 L200,235 L160,240 L130,215 Z"/>
<path transform="translate(395,540) scale(0.091146)" fill="none" stroke="#bbbbbb" stroke-width="0.7" stroke-linejoin="round" vector-effect="non-scaling-stroke" d="M290,160 L340,170 L400,150 L460,160 L500,150 L520,115 L560,80 L585,70"/>
<path transform="translate(395,540) scale(0.091146)" fill="none" stroke="#bbbbbb" stroke-width="0.7" stroke-linejoin="round" vector-effect="non-scaling-stroke" d="M500,150 L530,175 L540,215"/>
<path transform="translate(395,540) scale(0.091146)" fill="none" stroke="#bbbbbb" stroke-width="0.7" stroke-linejoin="round" vector-effect="non-scaling-stroke" d="M160,240 L150,280 L125,320 L120,350"/>
<path transform="translate(325,317) scale(0.130208)" fill="none" stroke="#bbbbbb" stroke-width="0.7" stroke-linejoin="round" vector-effect="non-scaling-stroke" d="M420,295 L410,320 L395,345 L380,375 L360,410 L345,440 L335,480 L320,510 L300,545 L292,590 L290,640 L300,690 L295,730 L292,770"/>
<path transform="translate(325,317) scale(0.130208)" fill="none" stroke="#bbbbbb" stroke-width="0.7" stroke-linejoin="round" vector-effect="non-scaling-stroke" d="M420,295 L450,280 L475,255 L490,245 L505,262 L525,270 L545,255 L560,235 L575,205 L590,185 L615,178 L640,190 L650,200"/>
<path transform="translate(325,317) scale(0.130208)" fill="none" stroke="#bbbbbb" stroke-width="0.7" stroke-linejoin="round" vector-effect="non-scaling-stroke" d="M490,245 L510,280 L535,310 L545,350 L555,390 L565,422"/>
<path transform="translate(325,317) scale(0.130208)" fill="none" stroke="#bbbbbb" stroke-width="0.7" stroke-linejoin="round" vector-effect="non-scaling-stroke" d="M650,200 L655,250 L665,300 L680,340 L690,380 L700,420 L710,460 L730,500 L750,520 L770,540"/>
<path transform="translate(325,417) scale(0.130208)" fill="none" stroke="#bbbbbb" stroke-width="0.7" stroke-linejoin="round" vector-effect="non-scaling-stroke" d="M20,410 L40,440 L25,480 L45,520 L20,560 L40,600 L90,620 L75,660 L60,700 L25,720"/>
<path transform="translate(325,417) scale(0.130208)" fill="none" stroke="#bbbbbb" stroke-width="0.7" stroke-linejoin="round" vector-effect="non-scaling-stroke" d="M160,330 L200,325"/>
<path transform="translate(325,417) scale(0.130208)" fill="none" stroke="#bbbbbb" stroke-width="0.7" stroke-linejoin="round" vector-effect="non-scaling-stroke" d="M345,345 L335,390 L350,440 L345,480 L355,515"/>
<path transform="translate(325,417) scale(0.130208)" fill="none" stroke="#bbbbbb" stroke-width="0.7" stroke-linejoin="round" vector-effect="non-scaling-stroke" d="M255,545 L300,525 L355,515 L400,535 L440,560 L470,555 L510,600 L480,610 L445,640 L400,630 L360,650 L320,660 L285,630 L260,590 Z"/>
<path transform="translate(325,417) scale(0.130208)" fill="none" stroke="#bbbbbb" stroke-width="0.7" stroke-linejoin="round" vector-effect="non-scaling-stroke" d="M510,600 L550,590 L600,610 L650,600 L665,560 L690,520 L700,480 L685,440 L660,400"/>
<path transform="translate(325,417) scale(0.130208)" fill="none" stroke="#bbbbbb" stroke-width="0.7" stroke-linejoin="round" vector-effect="non-scaling-stroke" d="M565,250 L600,258 L625,262 L625,295 L650,300 L665,345 L680,390"/>
<path transform="translate(325,417) scale(0.130208)" fill="none" stroke="#bbbbbb" stroke-width="0.7" stroke-linejoin="round" vector-effect="non-scaling-stroke" d="M555,185 L600,180 L650,178 L700,185 L740,200 L745,250 L720,290 L700,300 L665,345"/>
<path transform="translate(325,417) scale(0.130208)" fill="none" stroke="#bbbbbb" stroke-width="0.7" stroke-linejoin="round" vector-effect="non-scaling-stroke" d="M648,85 L700,95 L740,100 L770,90"/>
<path transform="translate(325,417) scale(0.130208)" fill="none" stroke="#bbbbbb" stroke-width="0.7" stroke-linejoin="round" vector-effect="non-scaling-stroke" d="M740,200 L770,195"/>
<path transform="translate(325,417) scale(0.130208)" fill="none" stroke="#bbbbbb" stroke-width="0.7" stroke-linejoin="round" vector-effect="non-scaling-stroke" d="M445,640 L450,690 L520,700 L600,660 L650,640 L770,660"/>
<path transform="translate(325,417) scale(0.130208)" fill="none" stroke="#bbbbbb" stroke-width="0.7" stroke-linejoin="round" vector-effect="non-scaling-stroke" d="M650,600 L655,640"/>
<path transform="translate(325,417) scale(0.130208)" fill="none" stroke="#bbbbbb" stroke-width="0.7" stroke-linejoin="round" vector-effect="non-scaling-stroke" d="M320,660 L300,680 L270,700 L200,720 L150,715 L100,740 L20,745"/>
<path transform="translate(325,417) scale(0.130208)" fill="none" stroke="#bbbbbb" stroke-width="0.7" stroke-linejoin="round" vector-effect="non-scaling-stroke" d="M285,630 L260,650 L270,690"/>
<path transform="translate(325,417) scale(0.130208)" fill="none" stroke="#bbbbbb" stroke-width="0.7" stroke-linejoin="round" vector-effect="non-scaling-stroke" d="M690,520 L770,505"/>
<path transform="translate(525,317) scale(0.143229)" fill="none" stroke="#bbbbbb" stroke-width="0.7" stroke-linejoin="round" vector-effect="non-scaling-stroke" d="M470,40 L490,75 L520,60 L600,48 L700,45 L705,20 L690,5"/>
<path transform="translate(525,317) scale(0.143229)" fill="none" stroke="#bbbbbb" stroke-width="0.7" stroke-linejoin="round" vector-effect="non-scaling-stroke" d="M490,75 L470,110 L455,150 L440,165 L420,180 L400,205 L380,190 L350,185 L325,210 L315,240 L320,270 L300,310 L280,350 L262,390 L245,420 L225,445 L225,465 L250,475 L270,470 L265,490 L255,510 L275,530 L270,550 L300,555 L330,545 L345,570 L335,600 L310,625 L270,635 L240,650 L220,670 L215,710 L180,715 L185,735 L130,720 L90,740 L60,770"/>
<path transform="translate(525,317) scale(0.143229)" fill="none" stroke="#bbbbbb" stroke-width="0.7" stroke-linejoin="round" vector-effect="non-scaling-stroke" d="M775,735 L730,740 L710,770"/>
<path transform="translate(425,417) scale(0.130208)" fill="none" stroke="#bbbbbb" stroke-width="0.7" stroke-linejoin="round" vector-effect="non-scaling-stroke" d="M0,160 L30,165 L70,160 L95,175 L110,200 L130,225 L150,245 L185,265 L195,290 L165,305 L175,335 L190,350 L165,370 L160,410"/>
<path transform="translate(425,417) scale(0.130208)" fill="none" stroke="#bbbbbb" stroke-width="0.7" stroke-linejoin="round" vector-effect="non-scaling-stroke" d="M160,410 L175,365 L215,340 L270,335 L290,360 L320,375 L360,405 L400,395 L450,400 L480,385 L530,390 L545,415 L550,450 L565,470 L555,490 L520,515 L540,530"/>
<path transform="translate(425,417) scale(0.130208)" fill="none" stroke="#bbbbbb" stroke-width="0.7" stroke-linejoin="round" vector-effect="non-scaling-stroke" d="M0,420 L50,420 L100,415 L160,410"/>
<path transform="translate(425,417) scale(0.130208)" fill="none" stroke="#bbbbbb" stroke-width="0.7" stroke-linejoin="round" vector-effect="non-scaling-stroke" d="M0,660 L40,630 L80,615 L130,620 L160,650 L200,680 L215,720"/>
<path transform="translate(425,417) scale(0.130208)" fill="none" stroke="#bbbbbb" stroke-width="0.7" stroke-linejoin="round" vector-effect="non-scaling-stroke" d="M80,630 L110,670 L150,720 L160,770"/>
<path transform="translate(425,417) scale(0.130208)" fill="none" stroke="#bbbbbb" stroke-width="0.7" stroke-linejoin="round" vector-effect="non-scaling-stroke" d="M690,715 L740,710 L775,705"/>
<path transform="translate(425,417) scale(0.130208)" fill="none" stroke="#bbbbbb" stroke-width="0.7" stroke-linejoin="round" vector-effect="non-scaling-stroke" d="M755,200 L770,220 L765,260"/>
<path transform="translate(525,427) scale(0.143229)" fill="none" stroke="#bbbbbb" stroke-width="0.7" stroke-linejoin="round" vector-effect="non-scaling-stroke" d="M40,-5 L30,60 L45,110 L20,120 L-5,115"/>
<path transform="translate(525,427) scale(0.143229)" fill="none" stroke="#bbbbbb" stroke-width="0.7" stroke-linejoin="round" vector-effect="non-scaling-stroke" d="M-5,185 L20,215 L60,235 L100,228 L140,255 L160,275"/>
<path transform="translate(525,427) scale(0.143229)" fill="none" stroke="#bbbbbb" stroke-width="0.7" stroke-linejoin="round" vector-effect="non-scaling-stroke" d="M565,45 L660,55 L700,-5"/>
<path transform="translate(525,427) scale(0.143229)" fill="none" stroke="#bbbbbb" stroke-width="0.7" stroke-linejoin="round" vector-effect="non-scaling-stroke" d="M470,95 L420,165 L565,325 L600,300 L575,270 L580,215 L620,185 L650,170 L690,195 L730,180 L750,155"/>
<path transform="translate(525,427) scale(0.143229)" fill="none" stroke="#bbbbbb" stroke-width="0.7" stroke-linejoin="round" vector-effect="non-scaling-stroke" d="M450,335 L540,340 L565,325"/>
<path transform="translate(525,427) scale(0.143229)" fill="none" stroke="#bbbbbb" stroke-width="0.7" stroke-linejoin="round" vector-effect="non-scaling-stroke" d="M-5,570 L60,550 L120,530 L180,545 L240,545 L290,520"/>
<path transform="translate(525,427) scale(0.143229)" fill="none" stroke="#bbbbbb" stroke-width="0.7" stroke-linejoin="round" vector-effect="non-scaling-stroke" d="M120,640 L180,600 L230,590 L205,560"/>
<path transform="translate(525,427) scale(0.143229)" fill="none" stroke="#bbbbbb" stroke-width="0.7" stroke-linejoin="round" vector-effect="non-scaling-stroke" d="M130,655 L160,690 L200,700 L260,690 L320,640 L340,610 L360,650 L400,660"/>
<path transform="translate(525,427) scale(0.143229)" fill="none" stroke="#bbbbbb" stroke-width="0.7" stroke-linejoin="round" vector-effect="non-scaling-stroke" d="M200,700 L210,730 L240,770"/>
<path transform="translate(525,427) scale(0.143229)" fill="none" stroke="#bbbbbb" stroke-width="0.7" stroke-linejoin="round" vector-effect="non-scaling-stroke" d="M655,585 L650,530 L680,470 L720,430 L775,415"/>
<path transform="translate(507,537) scale(0.166667)" fill="none" stroke="#bbbbbb" stroke-width="0.7" stroke-linejoin="round" vector-effect="non-scaling-stroke" d="M60,210 L100,185 L150,170 L200,130 L250,100 L300,60 L345,45"/>
<path transform="translate(507,537) scale(0.166667)" fill="none" stroke="#bbbbbb" stroke-width="0.7" stroke-linejoin="round" vector-effect="non-scaling-stroke" d="M245,130 L255,170 L275,200 L280,240 L250,290 L215,340"/>
<path transform="translate(507,537) scale(0.166667)" fill="none" stroke="#bbbbbb" stroke-width="0.7" stroke-linejoin="round" vector-effect="non-scaling-stroke" d="M345,45 L380,70 L440,80 L450,120 L455,160 L500,190 L560,200 L600,215 L625,245 L640,265 L680,275"/>
<path transform="translate(507,537) scale(0.166667)" fill="none" stroke="#bbbbbb" stroke-width="0.7" stroke-linejoin="round" vector-effect="non-scaling-stroke" d="M95,420 L140,420 L175,395 L215,340 L255,380 L320,375 L400,380 L480,395 L550,410 L600,400 L650,375 L700,360 L730,350"/>
<path transform="translate(507,537) scale(0.166667)" fill="none" stroke="#bbbbbb" stroke-width="0.7" stroke-linejoin="round" vector-effect="non-scaling-stroke" d="M255,380 L180,460 L240,490 L230,520 L200,540 L190,580 L150,600 L125,595"/>
<path transform="translate(507,537) scale(0.166667)" fill="none" stroke="#bbbbbb" stroke-width="0.7" stroke-linejoin="round" vector-effect="non-scaling-stroke" d="M70,520 L100,560 L125,595"/>
<path transform="translate(507,537) scale(0.166667)" fill="none" stroke="#bbbbbb" stroke-width="0.7" stroke-linejoin="round" vector-effect="non-scaling-stroke" d="M72,320 L100,330 L90,380 L95,420 M65,225 L70,260"/>
<path transform="translate(507,537) scale(0.166667)" fill="none" stroke="#bbbbbb" stroke-width="0.7" stroke-linejoin="round" vector-effect="non-scaling-stroke" d="M650,300 L640,340 L650,375"/>
<path transform="translate(507,537) scale(0.166667)" fill="none" stroke="#bbbbbb" stroke-width="0.7" stroke-linejoin="round" vector-effect="non-scaling-stroke" d="M315,-5 L320,20 L345,45"/>
<path transform="translate(225,400) scale(0.130208)" fill="none" stroke="#bbbbbb" stroke-width="0.7" stroke-linejoin="round" vector-effect="non-scaling-stroke" d="M660,585 L700,620 L740,660 L770,690"/>
<path transform="translate(225,400) scale(0.130208)" fill="none" stroke="#bbbbbb" stroke-width="0.7" stroke-linejoin="round" vector-effect="non-scaling-stroke" d="M740,575 L770,590"/>
<path transform="translate(107,433) scale(0.153646)" fill="none" stroke="#000" stroke-width="1.45" stroke-linejoin="round" stroke-linecap="round" vector-effect="non-scaling-stroke" d="M775,678 L740,708 L715,738 L712,755 L742,742 M715,750 L730,768"/>
<path transform="translate(107,551) scale(0.153646)" fill="none" stroke="#000" stroke-width="1.45" stroke-linejoin="round" stroke-linecap="round" vector-effect="non-scaling-stroke" d="M-5,612 L30,600 L70,592 L100,580 L120,555 L145,535 L170,520 L210,515 L235,500 L260,480 L290,468 L320,475 L355,482 L390,475 L430,465 L465,448 L495,430 L508,410 L505,385 L520,360 L545,335 L575,305 L610,290 L650,280 L690,278 L720,270 L745,250 L775,222"/>
<path transform="translate(107,551) scale(0.153646)" fill="none" stroke="#000" stroke-width="1.45" stroke-linejoin="round" stroke-linecap="round" vector-effect="non-scaling-stroke" d="M720,-5 L730,15 L722,40 L708,60 L695,75 L715,85 L740,95 L775,98"/>
<path transform="translate(107,551) scale(0.153646)" fill="none" stroke="#000" stroke-width="1.45" stroke-linejoin="round" stroke-linecap="round" vector-effect="non-scaling-stroke" d="M80,290 L88,286 L92,296 L86,305 L79,300 Z"/>
<path transform="translate(107,551) scale(0.153646)" fill="none" stroke="#000" stroke-width="1.45" stroke-linejoin="round" stroke-linecap="round" vector-effect="non-scaling-stroke" d="M115,345 L135,342 L158,350 L140,352 L130,365 L118,358 Z"/>
<path transform="translate(107,551) scale(0.153646)" fill="none" stroke="#000" stroke-width="1.45" stroke-linejoin="round" stroke-linecap="round" vector-effect="non-scaling-stroke" d="M153,395 L163,386 L175,392 L176,405 L165,412 L154,406 Z"/>
<path transform="translate(107,551) scale(0.153646)" fill="none" stroke="#000" stroke-width="1.45" stroke-linejoin="round" stroke-linecap="round" vector-effect="non-scaling-stroke" d="M218,420 L240,415 L262,400 L285,388 L300,390 L285,400 L262,412 L245,428 L225,428 Z"/>
<path transform="translate(325,600) scale(0.130208)" fill="none" stroke="#000" stroke-width="1.45" stroke-linejoin="round" stroke-linecap="round" vector-effect="non-scaling-stroke" d="M125,133 L110,135 L92,150 L88,170 L100,185 L125,190 L140,210 L165,228 L195,245 L230,252 L260,248 L295,258 L330,272 L365,285 L382,300 L388,325 L400,345 L425,358 L460,362 L495,368 L530,378 L560,392 L585,410 L605,420 L630,415 L650,400 L662,380 L665,355 L655,330 L655,300 L670,270 L700,245 L735,232 L775,228"/>
<path transform="translate(425,600) scale(0.130208)" fill="none" stroke="#000" stroke-width="1.45" stroke-linejoin="round" stroke-linecap="round" vector-effect="non-scaling-stroke" d="M-5,228 L30,232 L55,240 L70,260 L100,265 L130,268 L165,265 L185,280 L200,292 L225,280 L260,275 L300,278 L340,285 L380,288 L415,292 L435,290 L450,275 L470,255 L490,235 L510,220 L540,208 L570,205 L585,215 L600,218 L620,212 L650,205 L680,195 L700,180 L715,155 L720,120 L720,60 L718,-5"/>
<path transform="translate(425,600) scale(0.130208)" fill="none" stroke="#000" stroke-width="1.45" stroke-linejoin="round" stroke-linecap="round" vector-effect="non-scaling-stroke" d="M495,232 L530,214 M568,208 L598,220 M572,203 L602,214"/>
<path transform="translate(225,500) scale(0.130208)" fill="none" stroke="#000" stroke-width="1.45" stroke-linejoin="round" stroke-linecap="round" vector-effect="non-scaling-stroke" d="M-5,300 L15,270 L35,230 L50,190 L55,150 L60,125 L90,120 L125,112 L150,125 L180,140 L215,155 L250,175 L290,192 L330,210 L365,222 L385,225 L400,200 L420,160 L435,125 L445,95 L440,70 L450,50 L440,25 L435,-5"/>
<path transform="translate(225,500) scale(0.130208)" fill="none" stroke="#000" stroke-width="1.45" stroke-linejoin="round" stroke-linecap="round" vector-effect="non-scaling-stroke" d="M450,75 L455,110 L462,140"/>
<path transform="translate(225,500) scale(0.130208)" fill="none" stroke="#000" stroke-width="1.45" stroke-linejoin="round" stroke-linecap="round" vector-effect="non-scaling-stroke" d="M-5,510 L20,520 L35,545 L38,580 L45,605 L55,620 L55,605 L90,595 L130,590 L170,600 L205,615 L240,620 L270,600 L300,590 L320,595 L335,570 L355,550 L385,540 L380,510 L385,480 L400,455 L430,430 L460,410 L500,400 L540,385 L580,375 L590,350 L585,325 L600,300 L620,285 L640,278 L665,290 L690,305 L720,320 L745,320 L775,305"/>
<path transform="translate(225,500) scale(0.130208)" fill="none" stroke="#000" stroke-width="1.45" stroke-linejoin="round" stroke-linecap="round" vector-effect="non-scaling-stroke" d="M-5,655 L20,635 L45,620 L55,625 L60,650 L75,680 L100,695 L140,700 L175,710 L190,725 L220,730 L260,722 L300,715 L330,705 L360,692 L400,688 L440,690 L480,695 L520,692 L560,690 L600,700 L620,720 L650,715 L685,710 L720,715 L750,722 L775,730"/>
<path transform="translate(225,500) scale(0.130208)" fill="none" stroke="#000" stroke-width="1.45" stroke-linejoin="round" stroke-linecap="round" vector-effect="non-scaling-stroke" d="M512,505 L530,492 L555,495 L565,512 L550,530 L528,528 Z"/>
<path transform="translate(225,500) scale(0.130208)" fill="none" stroke="#000" stroke-width="1.45" stroke-linejoin="round" stroke-linecap="round" vector-effect="non-scaling-stroke" d="M752,130 L768,122"/>
<path transform="translate(325,517) scale(0.130208)" fill="none" stroke="#000" stroke-width="1.45" stroke-linejoin="round" stroke-linecap="round" vector-effect="non-scaling-stroke" d="M-5,170 L25,160 L50,145 L75,128 L100,125 L125,140 L145,160 L155,190 L160,220 L180,245 L205,275 L235,305 L265,330 L300,345 L320,370 L345,380 L370,400 L395,430 L410,460 L420,490 L415,515 L400,535 L395,545 L420,540 L440,515 L445,490 L465,485 L468,460 L450,440 L440,420 L455,395 L475,385 L495,395 L515,415 L530,420 L535,405 L520,385 L495,370 L465,355 L435,340 L410,325 L415,305 L385,295 L360,290 L335,265 L320,240 L305,210 L290,185 L270,165 L250,145 L242,115 L245,80 L270,65 L295,58 L305,75 L320,95 L335,90 L350,115 L370,150 L395,180 L425,205 L455,225 L490,245 L530,262 L560,275 L575,300 L578,340 L580,375 L592,405 L610,435 L635,455 L655,470"/>
<path transform="translate(325,517) scale(0.130208)" fill="none" stroke="#000" stroke-width="1.45" stroke-linejoin="round" stroke-linecap="round" vector-effect="non-scaling-stroke" d="M332,92 L345,110 L352,130 M338,88 L355,120 M366,142 L378,165 M428,198 L468,232 M435,195 L472,225 M430,210 L460,232 M596,420 L610,445 M602,418 L614,440"/>
<path transform="translate(325,517) scale(0.130208)" fill="none" stroke="#000" stroke-width="1.45" stroke-linejoin="round" stroke-linecap="round" vector-effect="non-scaling-stroke" d="M100,218 L108,215 L112,245 L105,285 L95,310 L80,305 L72,275 L75,245 L88,228 Z"/>
<path transform="translate(325,517) scale(0.130208)" fill="none" stroke="#000" stroke-width="1.45" stroke-linejoin="round" stroke-linecap="round" vector-effect="non-scaling-stroke" d="M42,345 L60,335 L85,325 L100,330 L108,365 L105,400 L100,440 L85,465 L60,470 L42,465 L38,430 L42,395 L38,365 Z"/>
<path transform="translate(325,517) scale(0.130208)" fill="none" stroke="#000" stroke-width="1.45" stroke-linejoin="round" stroke-linecap="round" vector-effect="non-scaling-stroke" d="M232,548 L260,535 L295,540 L330,545 L365,538 L390,532 L385,560 L378,590 L380,615 L365,630 L340,622 L310,605 L280,590 L252,575 L235,565 Z"/>
<path transform="translate(325,517) scale(0.130208)" fill="none" stroke="#000" stroke-width="1.45" stroke-linejoin="round" stroke-linecap="round" vector-effect="non-scaling-stroke" d="M-5,600 L30,590 L70,580 L100,585 L118,600 L125,620 L140,615 L155,600 L158,615 L140,635 L128,655 L135,685 L150,715 L145,745 L125,770"/>
<path transform="translate(325,517) scale(0.130208)" fill="none" stroke="#000" stroke-width="1.45" stroke-linejoin="round" stroke-linecap="round" vector-effect="non-scaling-stroke" d="M138,236 L155,233"/>
<path transform="translate(325,517) scale(0.130208)" fill="none" stroke="#000" stroke-width="1.45" stroke-linejoin="round" stroke-linecap="round" vector-effect="non-scaling-stroke" d="M318,675 L335,692 M322,672 L338,688"/>
<path transform="translate(425,517) scale(0.130208)" fill="none" stroke="#000" stroke-width="1.45" stroke-linejoin="round" stroke-linecap="round" vector-effect="non-scaling-stroke" d="M215,-5 L212,30 L200,45 L200,80 L195,110 L185,140 L178,170 L172,195 L185,215 L205,235 L230,248 L260,252 L300,248 L340,240 L360,230 L375,210 L395,185 L420,165 L450,150 L480,140 L510,128 L525,135 L545,130 L570,135 L590,148 L610,140 L640,138 L670,130 L700,115 L730,100 L775,95"/>
<path transform="translate(425,517) scale(0.130208)" fill="none" stroke="#000" stroke-width="1.45" stroke-linejoin="round" stroke-linecap="round" vector-effect="non-scaling-stroke" d="M260,252 L255,270 L230,275 L205,285 L190,305 L185,320 L210,325 L240,315 L265,295 L290,285 L300,280 L275,278 L258,270"/>
<path transform="translate(425,517) scale(0.130208)" fill="none" stroke="#000" stroke-width="1.45" stroke-linejoin="round" stroke-linecap="round" vector-effect="non-scaling-stroke" d="M285,545 L310,545 L335,560 L360,568 L385,562 L405,545 L408,520 L420,505 L450,500 L480,505 L505,520 L525,530 L550,520 L580,495 L600,470 L620,450 L650,445 L665,425 L680,420 L690,440 L688,470 L700,500 L710,530 L715,570 L718,620 L720,680 L722,770"/>
<path transform="translate(425,517) scale(0.130208)" fill="none" stroke="#000" stroke-width="1.45" stroke-linejoin="round" stroke-linecap="round" vector-effect="non-scaling-stroke" d="M530,595 L555,570 L585,558 L610,540 L628,525 L620,548 L605,565 L615,580 L595,590 L570,610 L545,618 L530,610 Z"/>
<path transform="translate(425,517) scale(0.130208)" fill="none" stroke="#000" stroke-width="1.45" stroke-linejoin="round" stroke-linecap="round" vector-effect="non-scaling-stroke" d="M495,332 L510,338 L525,352 L518,365 L500,358 Z"/>
<path transform="translate(395,540) scale(0.091146)" fill="none" stroke="#000" stroke-width="1.45" stroke-linejoin="round" stroke-linecap="round" vector-effect="non-scaling-stroke" d="M0,130 L25,135 L45,150 L50,185 L45,225 L50,270 L60,300 L80,330 L95,355 L110,385 L140,400 L165,415 L185,420 L170,440 L150,460 L140,490 L160,500 L175,520 L185,535 L195,505 L200,485"/>
<path transform="translate(395,540) scale(0.091146)" fill="none" stroke="#000" stroke-width="1.45" stroke-linejoin="round" stroke-linecap="round" vector-effect="non-scaling-stroke" d="M78,335 L92,350 L105,378 M85,330 L100,360"/>
<path transform="translate(395,540) scale(0.091146)" fill="none" stroke="#000" stroke-width="1.45" stroke-linejoin="round" stroke-linecap="round" vector-effect="non-scaling-stroke" d="M145,470 L158,492 L172,512 M150,480 L170,500 M165,430 L180,425"/>
<path transform="translate(395,540) scale(0.091146)" fill="none" stroke="#000" stroke-width="1.45" stroke-linejoin="round" stroke-linecap="round" vector-effect="non-scaling-stroke" d="M200,485 L230,470 L270,462 L310,465 L350,480 L390,490 L420,500 L440,492"/>
<path transform="translate(395,540) scale(0.091146)" fill="none" stroke="#000" stroke-width="1.45" stroke-linejoin="round" stroke-linecap="round" vector-effect="non-scaling-stroke" d="M200,490 L215,520 L235,550 L250,575 L255,600 L275,615 L290,600 L305,625 L320,640 L330,610 L345,625 L355,655 L360,660 L365,630 L355,600 L340,570 L325,545 L335,525 L365,530 L380,515 L370,500 L395,495 L410,505"/>
<path transform="translate(395,540) scale(0.091146)" fill="none" stroke="#000" stroke-width="1.45" stroke-linejoin="round" stroke-linecap="round" vector-effect="non-scaling-stroke" d="M275,265 L285,255 L300,275 L320,290 L345,300 L370,290 L395,270 L380,260 L355,250 L360,235 L385,225 L400,210 L430,200 L470,195 L510,205 L540,215 L580,200 L600,175 L630,160 L670,150 L710,145 L750,140 L775,135"/>
<path transform="translate(395,540) scale(0.091146)" fill="none" stroke="#000" stroke-width="1.45" stroke-linejoin="round" stroke-linecap="round" vector-effect="non-scaling-stroke" d="M330,285 L360,295 L385,280 M340,295 L375,285 M350,245 L372,232 M320,280 L345,290"/>
<path transform="translate(395,540) scale(0.091146)" fill="none" stroke="#000" stroke-width="1.45" stroke-linejoin="round" stroke-linecap="round" vector-effect="non-scaling-stroke" d="M600,215 L640,205 L680,190 L720,165 L760,150 M610,210 L650,195"/>
<path transform="translate(395,540) scale(0.091146)" fill="none" stroke="#000" stroke-width="1.45" stroke-linejoin="round" stroke-linecap="round" vector-effect="non-scaling-stroke" d="M575,-5 L585,30 L610,60 L630,85 L660,100 L700,110 L740,105 L775,100"/>
<path transform="translate(395,540) scale(0.091146)" fill="none" stroke="#000" stroke-width="1.45" stroke-linejoin="round" stroke-linecap="round" vector-effect="non-scaling-stroke" d="M690,125 L730,120 L775,118 M700,135 L740,140 L775,150 M690,125 L700,135"/>
<path transform="translate(395,540) scale(0.091146)" fill="none" stroke="#000" stroke-width="1.45" stroke-linejoin="round" stroke-linecap="round" vector-effect="non-scaling-stroke" d="M275,265 L270,295 L285,320 L310,345 L325,370 L315,400 L300,415 L330,425 L365,435 L400,445 L430,460 L460,475 L490,495 L515,515"/>
<path transform="translate(395,540) scale(0.091146)" fill="none" stroke="#000" stroke-width="1.45" stroke-linejoin="round" stroke-linecap="round" vector-effect="non-scaling-stroke" d="M330,400 L370,410 L410,430 L450,455 L490,480 L520,505 M320,385 L345,395 M310,410 L340,420 L380,432 L420,448"/>
<path transform="translate(395,540) scale(0.091146)" fill="none" stroke="#000" stroke-width="1.45" stroke-linejoin="round" stroke-linecap="round" vector-effect="non-scaling-stroke" d="M540,215 L535,250 L530,290 L540,320 L575,310 L590,330 L570,350 L540,350 L560,375 L600,370 L615,395 L590,410 L545,410 L555,430 L600,435 L640,445 L635,470 L610,470 L650,490 L680,510 L720,520 L775,520"/>
<path transform="translate(395,540) scale(0.091146)" fill="none" stroke="#000" stroke-width="1.45" stroke-linejoin="round" stroke-linecap="round" vector-effect="non-scaling-stroke" d="M540,330 L570,340 M545,395 L590,400 M640,540 L680,530 L720,545 L690,550 L650,548"/>
<path transform="translate(395,540) scale(0.091146)" fill="none" stroke="#000" stroke-width="1.45" stroke-linejoin="round" stroke-linecap="round" vector-effect="non-scaling-stroke" d="M440,505 L455,530 L470,560 M480,515 L490,530 M560,325 L585,340 M560,400 L600,395"/>
<path transform="translate(395,540) scale(0.091146)" fill="none" stroke="#000" stroke-width="1.45" stroke-linejoin="round" stroke-linecap="round" vector-effect="non-scaling-stroke" d="M715,605 L725,580 L745,562 L742,590 L728,615 Z"/>
<path transform="translate(395,540) scale(0.091146)" fill="none" stroke="#000" stroke-width="1.45" stroke-linejoin="round" stroke-linecap="round" vector-effect="non-scaling-stroke" d="M412,715 L430,700 L470,705 L520,712 L560,708 L600,700 L628,700 L625,720 L590,728 L550,735 L520,745 L480,735 L440,740 L415,735 Z"/>
<path transform="translate(395,540) scale(0.091146)" fill="none" stroke="#000" stroke-width="1.45" stroke-linejoin="round" stroke-linecap="round" vector-effect="non-scaling-stroke" d="M590,708 L620,712"/>
<path transform="translate(325,317) scale(0.130208)" fill="none" stroke="#000" stroke-width="1.45" stroke-linejoin="round" stroke-linecap="round" vector-effect="non-scaling-stroke" d="M85,770 L88,740 L100,715 L90,690 L100,660 L95,640 L110,615 L140,598 L170,580 L200,555 L230,545 L255,535 L270,545 L262,556 L242,550 L262,520 L280,495 L295,470 L300,440 L315,420 L330,395 L345,370 L360,345 L372,315 L385,290 L400,265 L415,240 L435,215 L455,195 L480,175 L505,155 L535,140 L565,130 L590,125 L610,135 L630,145 L650,160 L670,172 L700,178 L740,182 L770,180"/>
<path transform="translate(325,317) scale(0.130208)" fill="none" stroke="#000" stroke-width="1.45" stroke-linejoin="round" stroke-linecap="round" vector-effect="non-scaling-stroke" d="M320,322 L345,305 L365,298 L385,285 M350,285 L380,262 L395,250 M360,300 L390,290 L410,282 M400,330 L435,340 M355,318 L372,290 L380,270"/>
<path transform="translate(325,317) scale(0.130208)" fill="none" stroke="#000" stroke-width="1.45" stroke-linejoin="round" stroke-linecap="round" vector-effect="non-scaling-stroke" d="M405,255 L420,232 L440,208 L460,188 L485,168 L510,150 M410,245 L425,222 L445,200 M500,160 L515,175 M520,145 L530,165 M545,135 L555,160 M575,128 L585,150 L600,140 M610,140 L640,150 L655,170"/>
<path transform="translate(325,317) scale(0.130208)" fill="none" stroke="#000" stroke-width="1.45" stroke-linejoin="round" stroke-linecap="round" vector-effect="non-scaling-stroke" d="M236,540 L258,512 L276,488 L290,465 L296,438 L310,415 L326,390 L340,365 L356,340"/>
<path transform="translate(325,317) scale(0.130208)" fill="none" stroke="#000" stroke-width="1.45" stroke-linejoin="round" stroke-linecap="round" vector-effect="non-scaling-stroke" d="M100,640 L160,636 M110,680 L160,672 M95,722 L140,712 M120,600 L160,610 M150,590 L185,585 M185,560 L215,548 M90,745 L125,740"/>
<path transform="translate(325,317) scale(0.130208)" fill="none" stroke="#000" stroke-width="1.45" stroke-linejoin="round" stroke-linecap="round" vector-effect="non-scaling-stroke" d="M520,432 L545,425 L580,425 L598,440 L602,460 L592,490 L575,515 L555,540 L540,565 L528,590 L525,620 L532,650 L540,690 L542,720 L555,738 L590,738 L620,730 L650,715 L690,700 L725,690 L752,692 L760,705 L745,722 L710,740 L680,752 L640,765"/>
<path transform="translate(325,317) scale(0.130208)" fill="none" stroke="#000" stroke-width="1.45" stroke-linejoin="round" stroke-linecap="round" vector-effect="non-scaling-stroke" d="M520,432 L512,460 L515,490 L500,520 L480,548 L455,575 L438,605 L428,640 L425,680 L430,715 L450,740 L480,755 L500,742 L520,746 L545,738"/>
<path transform="translate(325,317) scale(0.130208)" fill="none" stroke="#000" stroke-width="1.45" stroke-linejoin="round" stroke-linecap="round" vector-effect="non-scaling-stroke" d="M320,495 L345,505 L365,520 L380,548 M312,555 L330,565 L350,590 M340,575 L352,600"/>
<path transform="translate(325,317) scale(0.130208)" fill="none" stroke="#000" stroke-width="1.45" stroke-linejoin="round" stroke-linecap="round" vector-effect="non-scaling-stroke" d="M640,540 L680,535 L700,560 L735,555 L750,580 L740,610 L745,640 L720,660 L690,650 L660,665 L640,640 L650,600 L635,575 Z"/>
<path transform="translate(325,317) scale(0.130208)" fill="none" stroke="#000" stroke-width="1.45" stroke-linejoin="round" stroke-linecap="round" vector-effect="non-scaling-stroke" d="M660,560 L690,575 L720,580 L735,600 M670,600 L700,610 L725,630 M655,625 L690,640 M700,545 L730,530 L755,540 M720,520 L740,545"/>
<path transform="translate(325,317) scale(0.130208)" fill="none" stroke="#000" stroke-width="1.45" stroke-linejoin="round" stroke-linecap="round" vector-effect="non-scaling-stroke" d="M590,620 L610,640 L600,665 L575,670 M600,620 L615,605 M585,650 L610,660"/>
<path transform="translate(325,317) scale(0.130208)" fill="none" stroke="#000" stroke-width="1.45" stroke-linejoin="round" stroke-linecap="round" vector-effect="non-scaling-stroke" d="M490,740 L510,748 M545,730 L575,742"/>
<path transform="translate(325,317) scale(0.130208)" fill="none" stroke="#000" stroke-width="1.45" stroke-linejoin="round" stroke-linecap="round" vector-effect="non-scaling-stroke" d="M715,290 L740,310 L735,330 L755,345 M730,365 L750,380 L745,400 M720,420 L745,430 L760,455 M740,470 L760,490 M750,250 L768,265"/>
<path transform="translate(325,317) scale(0.130208)" fill="none" stroke="#000" stroke-width="1.45" stroke-linejoin="round" stroke-linecap="round" vector-effect="non-scaling-stroke" d="M392,258 L407,233 L427,208 L447,188 L472,168 L497,148 L527,133 L557,123 L585,118 L605,128"/>
<path transform="translate(325,317) scale(0.130208)" fill="none" stroke="#000" stroke-width="1.45" stroke-linejoin="round" stroke-linecap="round" vector-effect="non-scaling-stroke" d="M396,262 L411,237 L431,212 L451,192 L476,172 L501,152 L531,137 L561,127"/>
<path transform="translate(325,317) scale(0.130208)" fill="none" stroke="#000" stroke-width="1.45" stroke-linejoin="round" stroke-linecap="round" vector-effect="non-scaling-stroke" d="M330,310 L350,295 L372,282 L392,262 M325,315 L360,300 M340,330 L370,305 L395,275"/>
<path transform="translate(325,317) scale(0.130208)" fill="none" stroke="#000" stroke-width="1.45" stroke-linejoin="round" stroke-linecap="round" vector-effect="non-scaling-stroke" d="M226,538 L250,508 L268,484 L284,460 L292,434 L306,410 L322,386 L336,360 L352,336 L366,310 L380,285"/>
<path transform="translate(325,317) scale(0.130208)" fill="none" stroke="#000" stroke-width="1.45" stroke-linejoin="round" stroke-linecap="round" vector-effect="non-scaling-stroke" d="M105,628 L135,610 L165,592 L195,568 L225,552 M92,655 L120,660 M98,700 L130,695 M85,760 L110,755"/>
<path transform="translate(325,417) scale(0.130208)" fill="none" stroke="#000" stroke-width="1.45" stroke-linejoin="round" stroke-linecap="round" vector-effect="non-scaling-stroke" d="M85,-5 L80,10 L90,40 L110,65 L140,85 L165,82 L190,65 L215,45 L235,30 L240,-5"/>
<path transform="translate(325,417) scale(0.130208)" fill="none" stroke="#000" stroke-width="1.45" stroke-linejoin="round" stroke-linecap="round" vector-effect="non-scaling-stroke" d="M95,5 L110,12 L105,30"/>
<path transform="translate(325,417) scale(0.130208)" fill="none" stroke="#000" stroke-width="1.45" stroke-linejoin="round" stroke-linecap="round" vector-effect="non-scaling-stroke" d="M245,-5 L250,40 L258,80 L268,120 L280,150 L290,180 L295,215 L290,240 L300,250 L330,248 L345,235 L360,215 L395,210 L415,195 L420,160 L415,130 L410,100 L408,70 L420,50 L445,40 L465,25 L470,-5"/>
<path transform="translate(325,417) scale(0.130208)" fill="none" stroke="#000" stroke-width="1.45" stroke-linejoin="round" stroke-linecap="round" vector-effect="non-scaling-stroke" d="M288,72 L300,45 L318,30 L332,38 L328,60 L305,75 Z"/>
<path transform="translate(325,417) scale(0.130208)" fill="none" stroke="#000" stroke-width="1.45" stroke-linejoin="round" stroke-linecap="round" vector-effect="non-scaling-stroke" d="M340,105 L352,62 L358,64 L346,108 Z"/>
<path transform="translate(325,417) scale(0.130208)" fill="none" stroke="#000" stroke-width="1.45" stroke-linejoin="round" stroke-linecap="round" vector-effect="non-scaling-stroke" d="M462,150 L475,115 L490,100 L488,125 L472,160 Z"/>
<path transform="translate(325,417) scale(0.130208)" fill="none" stroke="#000" stroke-width="1.45" stroke-linejoin="round" stroke-linecap="round" vector-effect="non-scaling-stroke" d="M410,190 L420,150 L425,152 L416,192"/>
<path transform="translate(325,417) scale(0.130208)" fill="none" stroke="#000" stroke-width="1.45" stroke-linejoin="round" stroke-linecap="round" vector-effect="non-scaling-stroke" d="M390,25 L410,18 L430,28 M420,10 L445,20 L460,8 M400,40 L425,35"/>
<path transform="translate(325,417) scale(0.130208)" fill="none" stroke="#000" stroke-width="1.45" stroke-linejoin="round" stroke-linecap="round" vector-effect="non-scaling-stroke" d="M0,362 L20,350 L55,345 L90,345 L110,340 L130,350 L150,335 L160,330 L175,350"/>
<path transform="translate(325,417) scale(0.130208)" fill="none" stroke="#000" stroke-width="1.45" stroke-linejoin="round" stroke-linecap="round" vector-effect="non-scaling-stroke" d="M158,330 L150,300 L140,270 L145,240 L140,215 L140,190 L150,160 L165,148 L185,152 L200,135 L215,120 L228,118 L222,140 L215,165 L220,185 L225,205 L205,215 L195,240 L200,270 L215,290 L225,310 L235,325 L260,320 L285,300 L300,295 L312,310 L325,340 L345,345 L350,330 L380,320 L410,310 L440,295 L470,285 L490,290 L500,305 L520,305 L545,285 L560,265 L565,250 L555,215 L550,180 L552,150 L560,125 L590,108 L612,115 L620,135 L636,140 L650,120 L648,85 L635,65 L610,70 L598,55 L585,48 L590,30 L610,15 L630,5 L640,-5"/>
<path transform="translate(325,417) scale(0.130208)" fill="none" stroke="#000" stroke-width="1.45" stroke-linejoin="round" stroke-linecap="round" vector-effect="non-scaling-stroke" d="M238,232 L255,218 L280,215 L290,235 L285,260 L262,268 L245,258 Z"/>
<path transform="translate(325,417) scale(0.130208)" fill="none" stroke="#000" stroke-width="1.45" stroke-linejoin="round" stroke-linecap="round" vector-effect="non-scaling-stroke" d="M195,245 L215,235 L228,250 L220,270 L200,268 Z"/>
<path transform="translate(325,417) scale(0.130208)" fill="none" stroke="#000" stroke-width="1.45" stroke-linejoin="round" stroke-linecap="round" vector-effect="non-scaling-stroke" d="M215,292 L250,286 L270,292 M150,165 L175,160 L170,150"/>
<path transform="translate(325,417) scale(0.130208)" fill="none" stroke="#000" stroke-width="1.45" stroke-linejoin="round" stroke-linecap="round" vector-effect="non-scaling-stroke" d="M572,60 L590,45 L605,55 L598,75 L580,85 Z"/>
<path transform="translate(325,417) scale(0.130208)" fill="none" stroke="#000" stroke-width="1.45" stroke-linejoin="round" stroke-linecap="round" vector-effect="non-scaling-stroke" d="M575,38 L588,32"/>
<path transform="translate(325,417) scale(0.130208)" fill="none" stroke="#000" stroke-width="1.45" stroke-linejoin="round" stroke-linecap="round" vector-effect="non-scaling-stroke" d="M712,15 L725,8 L738,30 L750,60 L742,65 L728,45 Z"/>
<path transform="translate(325,417) scale(0.130208)" fill="none" stroke="#000" stroke-width="1.45" stroke-linejoin="round" stroke-linecap="round" vector-effect="non-scaling-stroke" d="M5,360 L30,352 L35,380 L40,400 L20,410 L5,395 Z"/>
<path transform="translate(325,417) scale(0.130208)" fill="none" stroke="#000" stroke-width="1.45" stroke-linejoin="round" stroke-linecap="round" vector-effect="non-scaling-stroke" d="M15,375 L28,390"/>
<path transform="translate(325,417) scale(0.130208)" fill="none" stroke="#000" stroke-width="1.45" stroke-linejoin="round" stroke-linecap="round" vector-effect="non-scaling-stroke" d="M122,695 L140,708"/>
<path transform="translate(325,417) scale(0.130208)" fill="none" stroke="#000" stroke-width="1.45" stroke-linejoin="round" stroke-linecap="round" vector-effect="non-scaling-stroke" d="M462,760 L490,746"/>
<path transform="translate(425,317) scale(0.130208)" fill="none" stroke="#000" stroke-width="1.45" stroke-linejoin="round" stroke-linecap="round" vector-effect="non-scaling-stroke" d="M-5,180 L40,190 L80,200 L115,215 L135,240 L140,270 L125,300 L95,318 L50,325 L-5,322"/>
<path transform="translate(425,317) scale(0.130208)" fill="none" stroke="#000" stroke-width="1.45" stroke-linejoin="round" stroke-linecap="round" vector-effect="non-scaling-stroke" d="M-5,345 L25,360 L40,390 L60,420 L95,440 L125,438 L135,425 L110,410 L90,395 L95,378 L130,378 L165,375 L172,360 L155,340 L150,310 L160,285 L175,265 L210,262 L205,235 L195,210 L180,185 L170,160 L185,135 L205,140 L195,165 L200,185 L225,200 L250,190 L258,165 L245,140 L255,110 L270,80 L290,45 L310,50 L335,30 L340,0"/>
<path transform="translate(425,317) scale(0.130208)" fill="none" stroke="#000" stroke-width="1.45" stroke-linejoin="round" stroke-linecap="round" vector-effect="non-scaling-stroke" d="M300,5 L290,40 M315,20 L325,40"/>
<path transform="translate(425,317) scale(0.130208)" fill="none" stroke="#000" stroke-width="1.45" stroke-linejoin="round" stroke-linecap="round" vector-effect="non-scaling-stroke" d="M200,55 L215,45 L235,50 L238,70 L225,88 L208,85 Z"/>
<path transform="translate(425,317) scale(0.130208)" fill="none" stroke="#000" stroke-width="1.45" stroke-linejoin="round" stroke-linecap="round" vector-effect="non-scaling-stroke" d="M135,148 L155,145"/>
<path transform="translate(425,317) scale(0.130208)" fill="none" stroke="#000" stroke-width="1.45" stroke-linejoin="round" stroke-linecap="round" vector-effect="non-scaling-stroke" d="M-5,600 L30,610 L60,625 L80,650 L75,680 L55,700 L35,690 L15,660 L-5,640"/>
<path transform="translate(425,317) scale(0.130208)" fill="none" stroke="#000" stroke-width="1.45" stroke-linejoin="round" stroke-linecap="round" vector-effect="non-scaling-stroke" d="M0,700 L20,710"/>
<path transform="translate(425,317) scale(0.130208)" fill="none" stroke="#000" stroke-width="1.45" stroke-linejoin="round" stroke-linecap="round" vector-effect="non-scaling-stroke" d="M60,470 L85,480 L95,510 L120,530 L150,565 L158,600 L130,605 L110,580 L85,550 L70,520 L50,500 Z"/>
<path transform="translate(425,317) scale(0.130208)" fill="none" stroke="#000" stroke-width="1.45" stroke-linejoin="round" stroke-linecap="round" vector-effect="non-scaling-stroke" d="M85,520 L110,545 L130,570 M95,545 L115,560"/>
<path transform="translate(425,317) scale(0.130208)" fill="none" stroke="#000" stroke-width="1.45" stroke-linejoin="round" stroke-linecap="round" vector-effect="non-scaling-stroke" d="M235,685 L255,675 L290,700 L285,725 L260,730 L235,710 Z"/>
<path transform="translate(425,317) scale(0.130208)" fill="none" stroke="#000" stroke-width="1.45" stroke-linejoin="round" stroke-linecap="round" vector-effect="non-scaling-stroke" d="M250,690 L268,715"/>
<path transform="translate(425,317) scale(0.130208)" fill="none" stroke="#000" stroke-width="1.45" stroke-linejoin="round" stroke-linecap="round" vector-effect="non-scaling-stroke" d="M710,632 L695,655 L680,680 L660,695 L650,700 L660,730 L675,755 L700,770"/>
<path transform="translate(425,317) scale(0.130208)" fill="none" stroke="#000" stroke-width="1.45" stroke-linejoin="round" stroke-linecap="round" vector-effect="non-scaling-stroke" d="M655,700 L640,690"/>
<path transform="translate(425,417) scale(0.130208)" fill="none" stroke="#000" stroke-width="1.45" stroke-linejoin="round" stroke-linecap="round" vector-effect="non-scaling-stroke" d="M210,770 L225,740 L245,720 L250,690 L270,680 L290,690 L310,685 L340,680 L370,675 L400,672 L430,668 L420,650 L440,630 L470,600 L500,575 L530,550 L550,535 L565,530 L570,545 L550,570 L540,590 L555,605 L545,630 L550,660 L530,675 L505,680 L480,695 L450,690 L430,680"/>
<path transform="translate(425,417) scale(0.130208)" fill="none" stroke="#000" stroke-width="1.45" stroke-linejoin="round" stroke-linecap="round" vector-effect="non-scaling-stroke" d="M510,680 L540,690 L580,700 L620,705 L660,720 L700,735 L740,738 L775,742"/>
<path transform="translate(425,417) scale(0.130208)" fill="none" stroke="#000" stroke-width="1.45" stroke-linejoin="round" stroke-linecap="round" vector-effect="non-scaling-stroke" d="M345,730 L360,705 L385,690 L420,690 L450,700 L470,690 L490,700 L460,715 L440,740 L425,770 M345,730 L340,750 L365,770"/>
<path transform="translate(425,417) scale(0.130208)" fill="none" stroke="#000" stroke-width="1.45" stroke-linejoin="round" stroke-linecap="round" vector-effect="non-scaling-stroke" d="M385,665 L440,685 M390,675 L435,672 M395,682 L430,690"/>
<path transform="translate(425,417) scale(0.130208)" fill="none" stroke="#000" stroke-width="1.45" stroke-linejoin="round" stroke-linecap="round" vector-effect="non-scaling-stroke" d="M280,640 L290,665 L285,690 M290,670 L315,665"/>
<path transform="translate(425,417) scale(0.130208)" fill="none" stroke="#000" stroke-width="1.45" stroke-linejoin="round" stroke-linecap="round" vector-effect="non-scaling-stroke" d="M355,635 L358,600 L375,580 L402,575 L405,558 L388,565"/>
<path transform="translate(425,417) scale(0.130208)" fill="none" stroke="#000" stroke-width="1.45" stroke-linejoin="round" stroke-linecap="round" vector-effect="non-scaling-stroke" d="M240,498 L265,500 L295,515 M250,505 L290,512"/>
<path transform="translate(525,427) scale(0.143229)" fill="none" stroke="#000" stroke-width="1.45" stroke-linejoin="round" stroke-linecap="round" vector-effect="non-scaling-stroke" d="M265,158 L285,170 L300,200 L310,225 L325,228 L300,245 L280,262 L272,285 L295,298 L270,310 L262,325 L285,335 L320,350 L350,362 L380,355 L400,360 L415,385 L430,405 L448,410 L440,385 L445,365 L465,352 L490,362 L515,372 L530,380 L525,400 L505,415 L480,425 L470,435 L490,460 L515,470 L520,460 L540,470 L545,485 L570,488 L590,500 L610,525 L630,550 L655,585 L640,610 L615,635 L585,660 L545,675 L500,672 L470,685 L445,685 L420,665 L400,640 L395,605 L380,575 L378,545 L395,525 L370,520 L330,505 L290,490 L250,472 L215,455 L190,430 L160,415 L140,400 L135,370 L135,340 L155,320 L165,280 L175,240 L190,205 L210,185 L240,178 L250,162 Z"/>
<path transform="translate(525,427) scale(0.143229)" fill="none" stroke="#000" stroke-width="1.45" stroke-linejoin="round" stroke-linecap="round" vector-effect="non-scaling-stroke" d="M542,500 L548,520"/>
<path transform="translate(525,427) scale(0.143229)" fill="none" stroke="#000" stroke-width="1.45" stroke-linejoin="round" stroke-linecap="round" vector-effect="non-scaling-stroke" d="M470,50 L485,30 L500,40 L520,75 L510,100 L490,85 Z"/>
<path transform="translate(525,427) scale(0.143229)" fill="none" stroke="#000" stroke-width="1.45" stroke-linejoin="round" stroke-linecap="round" vector-effect="non-scaling-stroke" d="M500,40 L525,45 L550,70 L568,95 L555,105 L530,85 L515,65 Z"/>
<path transform="translate(525,427) scale(0.143229)" fill="none" stroke="#000" stroke-width="1.45" stroke-linejoin="round" stroke-linecap="round" vector-effect="non-scaling-stroke" d="M485,90 L505,100 L520,125 L505,130 L490,112 Z"/>
<path transform="translate(525,427) scale(0.143229)" fill="none" stroke="#000" stroke-width="1.45" stroke-linejoin="round" stroke-linecap="round" vector-effect="non-scaling-stroke" d="M478,-5 L490,15 L515,18 L522,-5"/>
<path transform="translate(525,427) scale(0.143229)" fill="none" stroke="#000" stroke-width="1.45" stroke-linejoin="round" stroke-linecap="round" vector-effect="non-scaling-stroke" d="M565,245 L585,238 L605,250 L600,270 L578,275 L565,262 Z"/>
<path transform="translate(525,427) scale(0.143229)" fill="none" stroke="#000" stroke-width="1.45" stroke-linejoin="round" stroke-linecap="round" vector-effect="non-scaling-stroke" d="M195,638 L215,635 L232,642 L225,652 L205,650"/>
<path transform="translate(525,427) scale(0.143229)" fill="none" stroke="#000" stroke-width="1.45" stroke-linejoin="round" stroke-linecap="round" vector-effect="non-scaling-stroke" d="M-5,600 L30,630 L38,660 L20,700 L-5,715"/>
<path transform="translate(525,427) scale(0.143229)" fill="none" stroke="#000" stroke-width="1.45" stroke-linejoin="round" stroke-linecap="round" vector-effect="non-scaling-stroke" d="M160,770 L170,750 L185,748 M265,770 L270,750 L290,748 L298,765"/>
<path transform="translate(507,537) scale(0.166667)" fill="none" stroke="#000" stroke-width="1.45" stroke-linejoin="round" stroke-linecap="round" vector-effect="non-scaling-stroke" d="M-5,235 L20,230 L35,210 L45,215 L40,240 L50,265 L65,290 L72,320 L72,360 L70,400 L70,440 L68,480 L55,510 L35,530 L10,545 L-5,548"/>
<path transform="translate(507,537) scale(0.166667)" fill="none" stroke="#000" stroke-width="1.45" stroke-linejoin="round" stroke-linecap="round" vector-effect="non-scaling-stroke" d="M10,610 L25,625 L50,650 L80,680 L110,695 L128,690 L130,660 L125,630 L122,598 L135,640 L140,665 L170,670 L200,690 L230,715 L260,740 L290,765"/>
<path transform="translate(507,537) scale(0.166667)" fill="none" stroke="#000" stroke-width="1.45" stroke-linejoin="round" stroke-linecap="round" vector-effect="non-scaling-stroke" d="M10,610 L8,625 L25,650 L60,685 L90,705 L110,730 L130,765"/>
<path transform="translate(507,537) scale(0.166667)" fill="none" stroke="#000" stroke-width="1.45" stroke-linejoin="round" stroke-linecap="round" vector-effect="non-scaling-stroke" d="M235,15 L250,5 L268,10 L265,25 L245,28 Z"/>
<path transform="translate(507,537) scale(0.166667)" fill="none" stroke="#000" stroke-width="1.45" stroke-linejoin="round" stroke-linecap="round" vector-effect="non-scaling-stroke" d="M350,-5 L365,8 L385,10 L380,28 L362,25 L345,5"/>
<path transform="translate(507,537) scale(0.166667)" fill="none" stroke="#000" stroke-width="1.45" stroke-linejoin="round" stroke-linecap="round" vector-effect="non-scaling-stroke" d="M362,210 L375,205 L388,220 L380,228 L368,222 Z"/>
<path transform="translate(507,537) scale(0.166667)" fill="none" stroke="#000" stroke-width="1.45" stroke-linejoin="round" stroke-linecap="round" vector-effect="non-scaling-stroke" d="M395,240 L410,245 L420,258 L435,265 L432,278 L415,275 L405,260 Z"/>
<path transform="translate(507,537) scale(0.166667)" fill="none" stroke="#000" stroke-width="1.45" stroke-linejoin="round" stroke-linecap="round" vector-effect="non-scaling-stroke" d="M598,286 L632,272 M598,280 L630,268"/>
<path transform="translate(507,537) scale(0.166667)" fill="none" stroke="#000" stroke-width="1.45" stroke-linejoin="round" stroke-linecap="round" vector-effect="non-scaling-stroke" d="M745,228 L725,245 L705,240 L700,265 L690,285 L675,290 L678,305 L690,300 L685,320 L710,330 L740,350 L775,368"/>
<path transform="translate(507,537) scale(0.166667)" fill="none" stroke="#000" stroke-width="1.45" stroke-linejoin="round" stroke-linecap="round" vector-effect="non-scaling-stroke" d="M680,285 L692,295 L685,305 Z"/>
<path transform="translate(239,317) scale(0.171875)" fill="none" stroke="#000" stroke-width="1.45" stroke-linejoin="round" stroke-linecap="round" vector-effect="non-scaling-stroke" d="M135,190 L150,215 L160,235 L180,248 L210,250 L240,252 L270,248 L292,235 L298,215 L290,200 L300,185 L292,172 L275,165 L260,172 L245,160 L230,155 L215,150 L200,158 L195,140 L200,120 L190,105 L175,108 L180,125 L165,130 L150,115 L145,125 L160,145 L150,155 L135,150 L140,165 L155,170 L150,185 Z"/>
<path transform="translate(239,317) scale(0.171875)" fill="none" stroke="#000" stroke-width="1.45" stroke-linejoin="round" stroke-linecap="round" vector-effect="non-scaling-stroke" d="M460,55 L482,49"/>
<path transform="translate(239,317) scale(0.171875)" fill="none" stroke="#000" stroke-width="1.45" stroke-linejoin="round" stroke-linecap="round" vector-effect="non-scaling-stroke" d="M345,400 L360,398 L350,415 L343,430"/>
<path transform="translate(239,317) scale(0.171875)" fill="none" stroke="#000" stroke-width="1.45" stroke-linejoin="round" stroke-linecap="round" vector-effect="non-scaling-stroke" d="M448,495 L435,510 L440,520 L430,530"/>
<path transform="translate(239,317) scale(0.171875)" fill="none" stroke="#000" stroke-width="1.45" stroke-linejoin="round" stroke-linecap="round" vector-effect="non-scaling-stroke" d="M375,560 L395,545"/>
<path transform="translate(225,400) scale(0.130208)" fill="none" stroke="#000" stroke-width="1.45" stroke-linejoin="round" stroke-linecap="round" vector-effect="non-scaling-stroke" d="M550,100 L590,105 L615,90 L628,80 L620,100 L600,120 L575,140 L560,160 L590,165 L620,180 L625,200 L600,225 L575,240 L548,250 L570,258 L585,280 L595,310 L598,340 L610,370 L622,400 L625,430 L618,455 L640,465 L660,485 L662,510 L645,530 L620,545 L635,560 L620,575 L590,580 L560,575 L530,575 L500,565 L470,560 L440,555 L410,560 L385,560 L365,550 L400,535 L425,520 L450,510 L475,505 L490,515 L470,520 L450,500 L430,490 L415,475 L415,460 L440,455 L460,440 L455,420 L465,395 L490,400 L515,395 L525,370 L520,340 L515,320 L535,318 L510,305 L490,310 L475,300 L490,275 L500,250 L485,235 L500,210 L490,180 L510,160 L520,135 L535,115 Z"/>
<path transform="translate(225,400) scale(0.130208)" fill="none" stroke="#000" stroke-width="1.45" stroke-linejoin="round" stroke-linecap="round" vector-effect="non-scaling-stroke" d="M448,160 L465,130 L490,100 L515,92 M470,150 L495,120 M455,240 L475,235 L495,245 L480,260 M465,200 L490,190 L500,210 M480,170 L500,165 M460,238 L490,232 M470,250 L495,238"/>
<path transform="translate(225,400) scale(0.130208)" fill="none" stroke="#000" stroke-width="1.45" stroke-linejoin="round" stroke-linecap="round" vector-effect="non-scaling-stroke" d="M245,375 L260,370 L280,365 L300,345 L290,320 L300,300 L310,270 L330,275 L355,265 L375,250 L400,245 L430,255 L445,270 L450,295 L440,320 L420,335 L410,360 L405,390 L390,415 L375,425 L345,425 L310,428 L275,425 L250,420 L240,400 Z"/>
<path transform="translate(225,400) scale(0.130208)" fill="none" stroke="#000" stroke-width="1.45" stroke-linejoin="round" stroke-linecap="round" vector-effect="non-scaling-stroke" d="M245,385 L252,410"/>
<path transform="translate(225,400) scale(0.130208)" fill="none" stroke="#000" stroke-width="1.45" stroke-linejoin="round" stroke-linecap="round" vector-effect="non-scaling-stroke" d="M695,18 L680,40 L672,58 M690,20 L682,45"/>
<path transform="translate(225,400) scale(0.130208)" fill="none" stroke="#000" stroke-width="1.45" stroke-linejoin="round" stroke-linecap="round" vector-effect="non-scaling-stroke" d="M355,655 L380,650 L410,655 L440,670 L470,685 L490,680 L485,650 L490,630 L510,625 L520,645 L545,655 L570,640 L600,625 L625,600 L640,590 L680,580 L720,570 L745,545 L760,515 L770,495"/>
<path transform="translate(225,400) scale(0.130208)" fill="none" stroke="#000" stroke-width="1.45" stroke-linejoin="round" stroke-linecap="round" vector-effect="non-scaling-stroke" d="M355,655 L360,680 L375,700 L400,720 L425,745 L445,770"/>
<path transform="translate(225,400) scale(0.130208)" fill="none" stroke="#000" stroke-width="1.45" stroke-linejoin="round" stroke-linecap="round" vector-effect="non-scaling-stroke" d="M455,510 L490,505 L475,520"/>
<path transform="translate(107,433) scale(0.153646)" fill="#000" d="M20,295 L32,292 L45,308 L58,315 L55,328 L38,325 L25,312 Z"/>
<path transform="translate(107,433) scale(0.153646)" fill="#000" d="M72,330 L84,327 L92,338 L84,348 L73,344 Z"/>
<path transform="translate(107,433) scale(0.153646)" fill="#000" d="M88,408 L98,404 L118,428 L110,438 L95,425 Z"/>
<path transform="translate(107,433) scale(0.153646)" fill="#000" d="M78,462 L90,462 L92,474 L80,476 Z"/>
<path transform="translate(107,551) scale(0.153646)" fill="#000" d="M238,108 L248,104 L262,118 L258,128 L245,124 Z"/>
<path transform="translate(107,551) scale(0.153646)" fill="#000" d="M38,334 L50,334 L52,346 L40,346 Z"/>
<path transform="translate(107,551) scale(0.153646)" fill="#000" d="M86,337 L98,337 L100,349 L88,349 Z"/>
<path transform="translate(325,600) scale(0.130208)" fill="#000" d="M118,178 L130,174 L140,184 L136,196 L122,198 Z"/>
<path transform="translate(325,600) scale(0.130208)" fill="#000" d="M150,113 L160,113 L160,123 L150,123 Z"/>
<path transform="translate(225,500) scale(0.130208)" fill="#000" d="M588,490 L600,488 L612,502 L604,512 L592,504 Z"/>
<path transform="translate(225,500) scale(0.130208)" fill="#000" d="M445,532 L458,528 L466,540 L458,555 L446,550 Z"/>
<path transform="translate(325,517) scale(0.130208)" fill="#000" d="M195,616 L208,616 L208,628 L195,628 Z"/>
<path transform="translate(325,517) scale(0.130208)" fill="#000" d="M148,750 L160,750 L160,760 L148,760 Z"/>
<path transform="translate(325,517) scale(0.130208)" fill="#000" d="M328,86 L340,82 L352,100 L358,122 L366,138 L358,142 L348,128 L338,112 L330,100 Z"/>
<path transform="translate(325,517) scale(0.130208)" fill="#000" d="M364,140 L374,140 L384,162 L376,168 L366,152 Z"/>
<path transform="translate(325,517) scale(0.130208)" fill="#000" d="M424,196 L440,194 L458,210 L474,226 L470,238 L452,232 L436,220 L426,208 Z"/>
<path transform="translate(325,517) scale(0.130208)" fill="#000" d="M592,418 L602,414 L614,438 L608,448 L598,436 Z"/>
<path transform="translate(425,517) scale(0.130208)" fill="#000" d="M395,-5 L420,-5 L418,8 L405,12 L396,6 Z"/>
<path transform="translate(425,517) scale(0.130208)" fill="#000" d="M742,678 L754,678 L754,692 L742,692 Z"/>
<path transform="translate(395,540) scale(0.091146)" fill="#000" d="M402,218 L416,214 L420,230 L406,234 Z"/>
<path transform="translate(395,540) scale(0.091146)" fill="#000" d="M472,232 L486,230 L490,244 L476,248 Z"/>
<path transform="translate(395,540) scale(0.091146)" fill="#000" d="M492,254 L508,250 L512,266 L496,270 Z"/>
<path transform="translate(395,540) scale(0.091146)" fill="#000" d="M452,280 L474,276 L480,296 L458,302 Z"/>
<path transform="translate(395,540) scale(0.091146)" fill="#000" d="M422,382 L438,380 L442,398 L426,402 Z"/>
<path transform="translate(395,540) scale(0.091146)" fill="#000" d="M366,372 L388,364 L392,374 L370,386 Z"/>
<path transform="translate(395,540) scale(0.091146)" fill="#000" d="M555,484 L580,476 L586,490 L560,500 Z"/>
<path transform="translate(395,540) scale(0.091146)" fill="#000" d="M505,540 L530,532 L536,548 L510,556 Z"/>
<path transform="translate(395,540) scale(0.091146)" fill="#000" d="M555,552 L575,546 L580,560 L560,568 Z"/>
<path transform="translate(395,540) scale(0.091146)" fill="#000" d="M592,574 L610,570 L614,586 L596,590 Z"/>
<path transform="translate(395,540) scale(0.091146)" fill="#000" d="M530,598 L546,596 L550,614 L534,616 Z"/>
<path transform="translate(395,540) scale(0.091146)" fill="#000" d="M450,588 L468,584 L472,600 L454,604 Z"/>
<path transform="translate(395,540) scale(0.091146)" fill="#000" d="M512,568 L526,566 L530,584 L516,586 Z"/>
<path transform="translate(395,540) scale(0.091146)" fill="#000" d="M676,638 L688,636 L692,670 L680,674 Z"/>
<path transform="translate(395,540) scale(0.091146)" fill="#000" d="M348,648 L362,648 L364,666 L350,666 Z"/>
<path transform="translate(325,317) scale(0.130208)" fill="#000" d="M605,215 L620,208 L628,222 L618,245 L602,250 L598,235 Z"/>
<path transform="translate(325,317) scale(0.130208)" fill="#000" d="M648,378 L668,370 L674,382 L658,392 Z"/>
<path transform="translate(325,317) scale(0.130208)" fill="#000" d="M418,415 L432,420 L442,440 L432,445 L420,430 Z"/>
<path transform="translate(325,317) scale(0.130208)" fill="#000" d="M640,482 L670,478 L678,492 L650,498 Z"/>
<path transform="translate(325,317) scale(0.130208)" fill="#000" d="M275,625 L287,622 L290,650 L278,655 Z"/>
<path transform="translate(325,317) scale(0.130208)" fill="#000" d="M318,318 L345,300 L372,288 L398,262 L410,268 L392,292 L368,305 L348,322 L325,330 Z"/>
<path transform="translate(325,317) scale(0.130208)" fill="#000" d="M640,545 L665,535 L690,540 L700,560 L725,555 L745,575 L740,605 L745,635 L725,655 L700,650 L690,660 L665,660 L645,640 L650,605 L638,580 Z M658,572 L664,596 L682,590 L678,568 Z M700,592 L704,622 L722,618 L718,590 Z M668,622 L672,645 L690,640 L686,618 Z M705,565 L708,580 L726,576 L722,562 Z M652,610 L654,628 L664,626 L662,608 Z"/>
<path transform="translate(325,317) scale(0.130208)" fill="#000" d="M720,300 L740,315 L738,332 L752,345 L745,352 L728,338 L718,318 Z"/>
<path transform="translate(325,317) scale(0.130208)" fill="#000" d="M728,368 L748,380 L745,402 L732,395 Z"/>
<path transform="translate(325,317) scale(0.130208)" fill="#000" d="M722,422 L745,430 L758,455 L745,458 L730,440 Z"/>
<path transform="translate(325,417) scale(0.130208)" fill="#000" d="M352,262 L364,260 L368,272 L356,276 Z"/>
<path transform="translate(325,417) scale(0.130208)" fill="#000" d="M685,50 L695,50 L696,62 L686,62 Z"/>
<path transform="translate(425,317) scale(0.130208)" fill="#000" d="M45,490 L58,488 L60,500 L48,502 Z"/>
<path transform="translate(425,317) scale(0.130208)" fill="#000" d="M143,512 L155,512 L157,526 L145,528 Z"/>
<path transform="translate(425,317) scale(0.130208)" fill="#000" d="M208,545 L220,542 L225,560 L212,562 Z"/>
<path transform="translate(425,317) scale(0.130208)" fill="#000" d="M230,578 L240,576 L250,596 L240,600 Z"/>
<path transform="translate(425,317) scale(0.130208)" fill="#000" d="M200,620 L220,616 L224,632 L205,636 Z"/>
<path transform="translate(425,317) scale(0.130208)" fill="#000" d="M255,622 L285,630 L283,642 L254,634 Z"/>
<path transform="translate(525,317) scale(0.143229)" fill="#000" d="M320,130 L330,126 L337,134 L333,143 L323,143 Z"/>
<path transform="translate(525,317) scale(0.143229)" fill="#000" d="M260,245 L270,241 L277,249 L273,258 L263,258 Z"/>
<path transform="translate(525,317) scale(0.143229)" fill="#000" d="M468,176 L485,172 L492,180 L478,190 L468,186 Z"/>
<path transform="translate(525,317) scale(0.143229)" fill="#000" d="M340,402 L348,402 L352,428 L344,430 Z"/>
<path transform="translate(525,317) scale(0.143229)" fill="#000" d="M520,355 L530,352 L532,368 L542,375 L540,392 L525,395 L517,380 Z"/>
<path transform="translate(525,317) scale(0.143229)" fill="#000" d="M462,10 L475,2 L485,15 L478,40 L465,45 L460,30 Z"/>
<path transform="translate(525,317) scale(0.143229)" fill="#000" d="M582,0 L598,0 L598,14 L585,16 Z"/>
<path transform="translate(525,317) scale(0.143229)" fill="#000" d="M485,740 L520,736 L522,765 L482,765 Z"/>
<path transform="translate(425,417) scale(0.130208)" fill="#000" d="M62,12 L78,5 L92,14 L85,28 L68,30 Z"/>
<path transform="translate(425,417) scale(0.130208)" fill="#000" d="M660,-5 L700,8 L712,35 L725,20 L740,5 L730,-5 Z"/>
<path transform="translate(525,427) scale(0.143229)" fill="#000" d="M232,304 L244,304 L246,318 L234,318 Z"/>
<path transform="translate(507,537) scale(0.166667)" fill="#000" d="M108,468 L118,466 L124,500 L114,504 Z"/>
<path transform="translate(507,537) scale(0.166667)" fill="#000" d="M87,407 L97,407 L98,418 L88,418 Z"/>
<path transform="translate(225,400) scale(0.130208)" fill="#000" d="M420,292 L432,290 L437,300 L430,308 L421,304 Z"/>
<path transform="translate(225,400) scale(0.130208)" fill="#000" d="M470,338 L486,330 L492,340 L476,350 Z"/>
<path transform="translate(225,400) scale(0.130208)" fill="#000" d="M456,630 L464,630 L464,640 L456,640 Z"/>
<path transform="translate(225,400) scale(0.130208)" fill="#000" d="M462,646 L470,646 L470,656 L462,656 Z"/>
<path transform="translate(225,400) scale(0.130208)" fill="#000" d="M712,562 L728,556 L738,570 L725,582 L712,576 Z"/>
<path transform="translate(225,400) scale(0.130208)" fill="#000" d="M520,568 L532,566 L534,578 L522,580 Z"/>
</g>
<rect x="107.5" y="317.5" width="527.8" height="346.7" fill="none" stroke="#444" stroke-width="1"/>
</svg>

<div class="ax" style="left:250px;top:306.6px;">30°W</div>
<div class="ax" style="left:334px;top:306.6px;">0°W</div>
<div class="ax" style="left:393px;top:306.6px;">30°E</div>
<div class="ax" style="left:474.8px;top:306.6px;">60°E</div>
<div class="ax" style="left:83px;top:465.8px;">30°W</div>
<div class="ax" style="left:638px;top:463.8px;">60°E</div>
<div class="ax" style="left:240.6px;top:665px;opacity:.75">0°E</div>
<div class="ax" style="left:242.2px;top:665px;opacity:.75">0°E</div>
<div class="ax" style="left:486px;top:665px;">30°E</div>

<svg width="768" height="768" viewBox="0 0 768 768" style="position:absolute;left:0;top:0;pointer-events:none">
<rect x="152" y="725" width="39.3" height="26.5" fill="#0c3f94"/>
<polygon points="171.60,728.10 171.94,729.14 173.03,729.14 172.14,729.78 172.48,730.81 171.60,730.17 170.72,730.81 171.06,729.78 170.17,729.14 171.26,729.14" fill="#ffcc00"/>
<polygon points="175.95,729.27 176.29,730.30 177.38,730.30 176.49,730.94 176.83,731.98 175.95,731.34 175.07,731.98 175.41,730.94 174.52,730.30 175.61,730.30" fill="#ffcc00"/>
<polygon points="179.13,732.45 179.47,733.49 180.56,733.49 179.68,734.13 180.02,735.16 179.13,734.52 178.25,735.16 178.59,734.13 177.71,733.49 178.80,733.49" fill="#ffcc00"/>
<polygon points="180.30,736.80 180.64,737.84 181.73,737.84 180.84,738.48 181.18,739.51 180.30,738.87 179.42,739.51 179.76,738.48 178.87,737.84 179.96,737.84" fill="#ffcc00"/>
<polygon points="179.13,741.15 179.47,742.19 180.56,742.19 179.68,742.83 180.02,743.86 179.13,743.22 178.25,743.86 178.59,742.83 177.71,742.19 178.80,742.19" fill="#ffcc00"/>
<polygon points="175.95,744.33 176.29,745.37 177.38,745.37 176.49,746.01 176.83,747.05 175.95,746.41 175.07,747.05 175.41,746.01 174.52,745.37 175.61,745.37" fill="#ffcc00"/>
<polygon points="171.60,745.50 171.94,746.54 173.03,746.54 172.14,747.18 172.48,748.21 171.60,747.57 170.72,748.21 171.06,747.18 170.17,746.54 171.26,746.54" fill="#ffcc00"/>
<polygon points="167.25,744.33 167.59,745.37 168.68,745.37 167.79,746.01 168.13,747.05 167.25,746.41 166.37,747.05 166.71,746.01 165.82,745.37 166.91,745.37" fill="#ffcc00"/>
<polygon points="164.07,741.15 164.40,742.19 165.49,742.19 164.61,742.83 164.95,743.86 164.07,743.22 163.18,743.86 163.52,742.83 162.64,742.19 163.73,742.19" fill="#ffcc00"/>
<polygon points="162.90,736.80 163.24,737.84 164.33,737.84 163.44,738.48 163.78,739.51 162.90,738.87 162.02,739.51 162.36,738.48 161.47,737.84 162.56,737.84" fill="#ffcc00"/>
<polygon points="164.07,732.45 164.40,733.49 165.49,733.49 164.61,734.13 164.95,735.16 164.07,734.52 163.18,735.16 163.52,734.13 162.64,733.49 163.73,733.49" fill="#ffcc00"/>
<polygon points="167.25,729.27 167.59,730.30 168.68,730.30 167.79,730.94 168.13,731.98 167.25,731.34 166.37,731.98 166.71,730.94 165.82,730.30 166.91,730.30" fill="#ffcc00"/>
<g font-family="Liberation Sans, sans-serif">
<text x="203.2" y="736.9" font-size="8.1" font-weight="bold" fill="#8e8e8e" textLength="69" lengthAdjust="spacingAndGlyphs">PROGRAMME OF</text>
<text x="203.2" y="745.8" font-size="8.1" font-weight="bold" fill="#8e8e8e" textLength="94" lengthAdjust="spacingAndGlyphs">THE EUROPEAN UNION</text>
<!-- copernicus -->
<defs><linearGradient id="cg" x1="0" y1="1" x2="1" y2="0"><stop offset="0" stop-color="#2565ad"/><stop offset="0.55" stop-color="#3f86cc"/><stop offset="1" stop-color="#9ccbee"/></linearGradient></defs>
<circle cx="324.3" cy="737.9" r="12.4" fill="url(#cg)"/>
<circle cx="325.92" cy="738.43" r="11.4" fill="#fff"/>
<text x="322" y="746.4" font-size="14.6" fill="#2c4a7c" textLength="64" lengthAdjust="spacingAndGlyphs">opernicus</text>
<circle cx="358" cy="741.2" r="1.7" fill="#f5c518"/>
<text x="342.3" y="751.6" font-size="4.6" fill="#4d7fba" textLength="43.6" lengthAdjust="spacingAndGlyphs">Europe's eyes on Earth</text>
<!-- ecmwf -->
<text x="423.6" y="728.8" font-size="4.4" fill="#2a78bd" textLength="39" lengthAdjust="spacingAndGlyphs">IMPLEMENTED BY</text>
<circle cx="432.65" cy="742.06" r="9.15" fill="#1a6db3"/>
<circle cx="439.05" cy="742.06" r="9.15" fill="#1a6db3"/>
<circle cx="432.6" cy="742.1" r="3.5" fill="#fff"/>
<circle cx="439.6" cy="742.1" r="3.5" fill="#fff"/>
<rect x="441" y="740.7" width="8" height="3.1" fill="#fff"/>
<rect x="422.8" y="740.3" width="8.4" height="3.4" fill="#fff"/>
<rect x="423.4" y="741.15" width="7.4" height="1.7" fill="#1a6db3"/>
<text x="450.6" y="749.7" font-size="20.5" font-weight="bold" fill="#1a6db3" textLength="79.4" lengthAdjust="spacingAndGlyphs">ECMWF</text>
<!-- climate change -->
<circle cx="561.7" cy="738.4" r="12.3" fill="#941e3c"/>
<circle cx="563.6" cy="739.05" r="11.2" fill="#fff"/>
<path d="M554.2,738.6 Q555,736.2 557.6,736.4 Q559.2,733.2 563,733.6 Q567,731.6 569.4,735 Q572.4,735.2 573.2,738.4" fill="none" stroke="#c0647e" stroke-width="0.6"/>
<rect x="564.6" y="734.6" width="1.8" height="8" rx="0.9" fill="#c83a5c"/>
<circle cx="565.5" cy="743" r="1.5" fill="#c83a5c"/>
<text x="575.6" y="737.9" font-size="5" font-weight="bold" fill="#cc6a8a" textLength="16" lengthAdjust="spacingAndGlyphs">Climate</text>
<text x="575.6" y="742.9" font-size="5" font-weight="bold" fill="#cc6a8a" textLength="33.3" lengthAdjust="spacingAndGlyphs">Change Service</text>
<text x="575.2" y="750.7" font-size="4.6" fill="#a0a0a0" textLength="41.6" lengthAdjust="spacingAndGlyphs">climate.copernicus.eu</text>
</g>
</svg>
</body></html>
